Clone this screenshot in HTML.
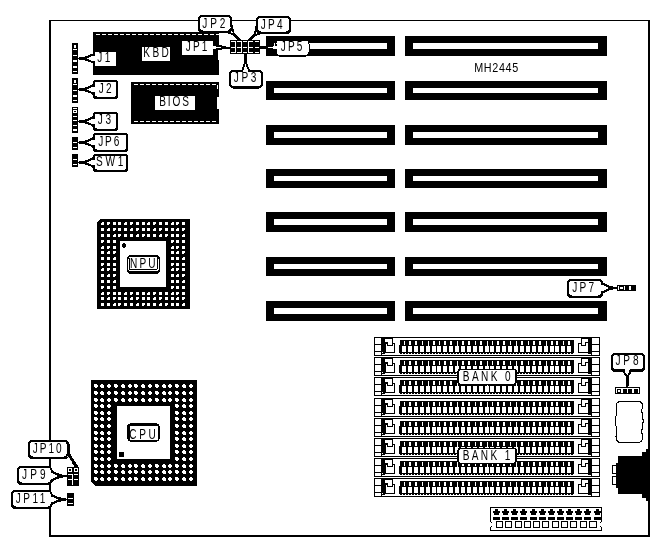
<!DOCTYPE html>
<html><head><meta charset="utf-8"><title>MH2445</title>
<style>
html,body{margin:0;padding:0;background:#fff;}
body{width:655px;height:541px;overflow:hidden;}
svg{display:block;will-change:transform;}
svg *{shape-rendering:crispEdges;}
svg .aa{shape-rendering:crispEdges;}
text{font-family:"Liberation Sans",sans-serif;fill:#000;}
</style></head><body>
<svg width="655" height="541" viewBox="0 0 655 541">
<rect x="0" y="0" width="655" height="541" fill="#fff"/>
<rect x="49" y="20" width="601" height="517" fill="#000" />
<rect x="51" y="21" width="597" height="514" fill="#fff" />
<rect x="266" y="36" width="129" height="20" fill="#000" />
<rect x="274" y="43" width="113" height="6" fill="#fff" />
<rect x="405" y="36" width="202" height="20" fill="#000" />
<rect x="413" y="43" width="185" height="6" fill="#fff" />
<rect x="266" y="81" width="129" height="19" fill="#000" />
<rect x="274" y="88" width="113" height="5" fill="#fff" />
<rect x="405" y="81" width="202" height="19" fill="#000" />
<rect x="413" y="88" width="185" height="5" fill="#fff" />
<rect x="266" y="125" width="129" height="20" fill="#000" />
<rect x="274" y="132" width="113" height="6" fill="#fff" />
<rect x="405" y="125" width="202" height="20" fill="#000" />
<rect x="413" y="132" width="185" height="6" fill="#fff" />
<rect x="266" y="169" width="129" height="19" fill="#000" />
<rect x="274" y="176" width="113" height="5" fill="#fff" />
<rect x="405" y="169" width="202" height="19" fill="#000" />
<rect x="413" y="176" width="185" height="5" fill="#fff" />
<rect x="266" y="212" width="129" height="20" fill="#000" />
<rect x="274" y="219" width="113" height="6" fill="#fff" />
<rect x="405" y="212" width="202" height="20" fill="#000" />
<rect x="413" y="219" width="185" height="6" fill="#fff" />
<rect x="266" y="257" width="129" height="19" fill="#000" />
<rect x="274" y="264" width="113" height="5" fill="#fff" />
<rect x="405" y="257" width="202" height="19" fill="#000" />
<rect x="413" y="264" width="185" height="5" fill="#fff" />
<rect x="266" y="301" width="129" height="20" fill="#000" />
<rect x="274" y="308" width="113" height="6" fill="#fff" />
<rect x="405" y="301" width="202" height="20" fill="#000" />
<rect x="413" y="308" width="185" height="6" fill="#fff" />
<text transform="translate(474.22,72.00) scale(0.9,1)" font-size="12" textLength="48.89" lengthAdjust="spacing">MH2445</text>
<rect x="93" y="32" width="126" height="43" fill="#000" />
<line x1="96" y1="34.5" x2="219" y2="34.5" stroke="#fff" stroke-width="1" stroke-dasharray="4 2"/>
<rect x="218" y="50" width="1" height="10" fill="#fff" />
<rect x="131" y="82" width="88" height="42" fill="#000" />
<line x1="134" y1="84.5" x2="217" y2="84.5" stroke="#fff" stroke-width="1" stroke-dasharray="4 2"/>
<line x1="134" y1="121.5" x2="217" y2="121.5" stroke="#fff" stroke-width="1" stroke-dasharray="4 2"/>
<rect x="217" y="97" width="2" height="12" fill="#fff" />
<rect x="217" y="85" width="1" height="4" fill="#fff" />
<rect x="72" y="43" width="6" height="31" fill="#000" />
<rect x="74" y="45" width="2" height="3" fill="#fff" />
<rect x="73" y="49" width="4" height="1" fill="#fff" />
<rect x="73" y="55" width="4" height="1" fill="#fff" />
<rect x="73" y="60" width="4" height="2" fill="#fff" />
<rect x="73" y="66" width="4" height="2" fill="#fff" />
<rect x="73" y="71" width="4" height="1" fill="#fff" />
<rect x="72" y="78" width="6" height="25" fill="#000" />
<rect x="74" y="80" width="2" height="3" fill="#fff" />
<rect x="73" y="84" width="4" height="1" fill="#fff" />
<rect x="73" y="90" width="4" height="1" fill="#fff" />
<rect x="73" y="95" width="4" height="2" fill="#fff" />
<rect x="73" y="100" width="4" height="1" fill="#fff" />
<rect x="72" y="107" width="6" height="26" fill="#000" />
<rect x="73" y="108" width="4" height="1" fill="#fff" />
<rect x="73" y="110" width="4" height="3" fill="#fff" />
<rect x="73" y="116" width="4" height="1" fill="#fff" />
<rect x="73" y="120" width="4" height="1" fill="#fff" />
<rect x="73" y="125" width="4" height="1" fill="#fff" />
<rect x="73" y="129" width="4" height="2" fill="#fff" />
<rect x="74" y="111" width="2" height="1" fill="#000" />
<rect x="72" y="137" width="6" height="13" fill="#000" />
<rect x="73" y="142" width="4" height="1" fill="#fff" />
<rect x="73" y="147" width="4" height="1" fill="#fff" />
<rect x="72" y="154" width="6" height="13" fill="#000" />
<rect x="73" y="159" width="4" height="1" fill="#fff" />
<rect x="73" y="164" width="4" height="1" fill="#fff" />
<polygon points="96.00,52.50 93.50,54.50 91.00,54.30 86.99,55.90 82.65,57.00 78.00,57.60 78.00,59.40 82.65,60.00 86.99,61.10 91.00,62.70 93.50,62.50 96.00,65.50" fill="#000" class="aa"/>
<rect x="93" y="52" width="3" height="14" fill="#000" />
<rect x="95" y="52" width="21" height="14" fill="#fff" />
<polygon points="96.50,55.30 93.00,55.70 91.00,56.50 87.92,58.00 86.99,58.50 87.92,59.00 91.00,60.50 93.00,61.30 96.50,61.70" fill="#fff" class="aa"/>
<text transform="translate(97.22,62.00) scale(0.72,1)" font-size="14" textLength="18.36" lengthAdjust="spacing">J1</text>
<rect x="142" y="47" width="28" height="14" fill="#fff" />
<text transform="translate(143.22,57.00) scale(0.72,1)" font-size="14" textLength="35.62" lengthAdjust="spacing">KBD</text>
<rect x="182" y="41" width="31" height="14" fill="#fff" />
<text transform="translate(185.84,51.00) scale(0.72,1)" font-size="14" textLength="29.92" lengthAdjust="spacing">JP1</text>
<rect x="155" y="96" width="40" height="14" fill="#fff" />
<text transform="translate(159.22,106.00) scale(0.72,1)" font-size="14" textLength="41.28" lengthAdjust="spacing">BIOS</text>
<polygon points="96.00,80.50 93.50,83.50 91.00,85.30 86.99,86.90 82.65,88.00 78.00,88.60 78.00,90.40 82.65,91.00 86.99,92.10 91.00,93.70 93.50,95.50 96.00,98.50" fill="#000" class="aa"/>
<rect x="93" y="80" width="25" height="19" rx="3.0" ry="3.0" fill="#000" class="aa"/>
<rect x="95" y="81.5" width="21" height="15.0" rx="1.5" ry="1.5" fill="#fff" class="aa"/>
<polygon points="96.50,86.30 93.00,86.70 91.00,87.50 87.92,89.00 86.99,89.50 87.92,90.00 91.00,91.50 93.00,92.30 96.50,92.70" fill="#fff" class="aa"/>
<text transform="translate(98.84,93.00) scale(0.72,1)" font-size="14" textLength="17.72" lengthAdjust="spacing">J2</text>
<polygon points="96.00,112.50 93.50,115.50 91.00,117.30 86.99,118.90 82.65,120.00 78.00,120.60 78.00,122.40 82.65,123.00 86.99,124.10 91.00,125.70 93.50,127.50 96.00,130.50" fill="#000" class="aa"/>
<rect x="93" y="112" width="25" height="19" rx="3.0" ry="3.0" fill="#000" class="aa"/>
<rect x="95" y="113.5" width="21" height="15.0" rx="1.5" ry="1.5" fill="#fff" class="aa"/>
<polygon points="96.50,118.30 93.00,118.70 91.00,119.50 87.92,121.00 86.99,121.50 87.92,122.00 91.00,123.50 93.00,124.30 96.50,124.70" fill="#fff" class="aa"/>
<text transform="translate(97.84,124.00) scale(0.72,1)" font-size="14" textLength="18.50" lengthAdjust="spacing">J3</text>
<polygon points="96.00,133.50 93.50,136.50 91.00,138.30 86.99,139.90 82.65,141.00 78.00,141.60 78.00,143.40 82.65,144.00 86.99,145.10 91.00,146.70 93.50,148.50 96.00,151.50" fill="#000" class="aa"/>
<rect x="93" y="133" width="35" height="19" rx="3.0" ry="3.0" fill="#000" class="aa"/>
<rect x="95" y="134.5" width="31" height="15.0" rx="1.5" ry="1.5" fill="#fff" class="aa"/>
<polygon points="96.50,139.30 93.00,139.70 91.00,140.50 87.92,142.00 86.99,142.50 87.92,143.00 91.00,144.50 93.00,145.30 96.50,145.70" fill="#fff" class="aa"/>
<text transform="translate(98.22,146.00) scale(0.72,1)" font-size="14" textLength="29.31" lengthAdjust="spacing">JP6</text>
<polygon points="96.00,154.50 93.50,156.50 91.00,158.30 86.99,159.90 82.65,161.00 78.00,161.60 78.00,163.40 82.65,164.00 86.99,165.10 91.00,166.70 93.50,168.50 96.00,171.50" fill="#000" class="aa"/>
<rect x="93" y="154" width="35" height="18" rx="3.0" ry="3.0" fill="#000" class="aa"/>
<rect x="95" y="155.5" width="31" height="14.0" rx="1.5" ry="1.5" fill="#fff" class="aa"/>
<polygon points="96.50,159.30 93.00,159.70 91.00,160.50 87.92,162.00 86.99,162.50 87.92,163.00 91.00,164.50 93.00,165.30 96.50,165.70" fill="#fff" class="aa"/>
<text transform="translate(95.94,166.00) scale(0.72,1)" font-size="14" textLength="38.11" lengthAdjust="spacing">SW1</text>
<line x1="240" y1="41" x2="234.12" y2="34.62" stroke="#000" stroke-width="3" class="aa"/>
<polygon points="225,31.5 234.12,34.62 231.5,25" fill="#fff" stroke="#000" stroke-width="1.8" stroke-linejoin="miter" class="aa"/>
<rect x="198" y="15" width="34" height="18" rx="4.3" ry="4.3" fill="#000" class="aa"/>
<rect x="200" y="16.5" width="30" height="14.0" rx="2.8" ry="2.8" fill="#fff" class="aa"/>
<polygon points="227.11,31.08 231.01,27.18 228.57,24.54 224.67,28.44" fill="#fff" class="aa"/>
<text transform="translate(202.28,28.00) scale(0.72,1)" font-size="14" textLength="32.17" lengthAdjust="spacing">JP2</text>
<line x1="249" y1="41" x2="254.62" y2="35.12" stroke="#000" stroke-width="3" class="aa"/>
<polygon points="256.5,26 254.62,35.12 264,32.5" fill="#fff" stroke="#000" stroke-width="1.8" stroke-linejoin="miter" class="aa"/>
<rect x="256" y="16" width="35" height="18" rx="4.3" ry="4.3" fill="#000" class="aa"/>
<rect x="258" y="17.5" width="31" height="14.0" rx="2.8" ry="2.8" fill="#fff" class="aa"/>
<polygon points="257.17,28.17 261.67,32.07 264.16,29.47 259.66,25.57" fill="#fff" class="aa"/>
<text transform="translate(260.72,29.00) scale(0.72,1)" font-size="14" textLength="30.28" lengthAdjust="spacing">JP4</text>
<line x1="245" y1="53" x2="245.38" y2="62.00" stroke="#000" stroke-width="3" class="aa"/>
<polygon points="242,71 245.38,62.00 249.5,71" fill="#fff" stroke="#000" stroke-width="1.8" stroke-linejoin="miter" class="aa"/>
<rect x="229" y="70" width="34" height="18.5" rx="4.3" ry="4.3" fill="#000" class="aa"/>
<rect x="231" y="71.5" width="30" height="14.5" rx="2.8" ry="2.8" fill="#fff" class="aa"/>
<polygon points="243.45,69.80 247.95,69.80 248.10,73.40 243.60,73.40" fill="#fff" class="aa"/>
<text transform="translate(233.74,82.00) scale(0.72,1)" font-size="14" textLength="31.39" lengthAdjust="spacing">JP3</text>
<polygon points="213,45.5 218,47.5 213,49.5" fill="#fff" class="aa"/>
<polygon points="219,45 222,45.5 226,46.5 230,46.5 230,48.5 226,49 222,49.5 219,50" fill="#000" class="aa"/>
<rect x="218" y="47" width="3" height="1" fill="#fff" />
<polygon points="260,46.5 266,46 266,49 260,48.5" fill="#000" class="aa"/>
<rect x="275" y="39.5" width="34.5" height="17" rx="4" ry="4" fill="#000" class="aa"/>
<rect x="276.5" y="40.5" width="32" height="14.5" rx="3" ry="3" fill="#fff" class="aa"/>
<polygon points="277,45.5 268,47.5 277,49.5" fill="#fff" class="aa"/>
<text transform="translate(280.84,51.00) scale(0.72,1)" font-size="14" textLength="29.83" lengthAdjust="spacing">JP5</text>
<rect x="230" y="40" width="30" height="14" fill="#000" />
<rect x="231" y="41" width="4" height="1" fill="#fff" />
<rect x="237" y="41" width="4" height="1" fill="#fff" />
<rect x="243" y="41" width="4" height="1" fill="#fff" />
<rect x="249" y="41" width="4" height="1" fill="#fff" />
<rect x="255" y="41" width="4" height="1" fill="#fff" />
<rect x="231" y="47" width="4" height="1" fill="#fff" />
<rect x="237" y="47" width="4" height="1" fill="#fff" />
<rect x="243" y="47" width="4" height="1" fill="#fff" />
<rect x="249" y="47" width="4" height="1" fill="#fff" />
<rect x="255" y="47" width="4" height="1" fill="#fff" />
<rect x="231" y="52" width="4" height="1" fill="#fff" />
<rect x="237" y="52" width="4" height="1" fill="#fff" />
<rect x="243" y="52" width="4" height="1" fill="#fff" />
<rect x="249" y="52" width="4" height="1" fill="#fff" />
<rect x="255" y="52" width="4" height="1" fill="#fff" />
<rect x="235" y="41" width="1" height="12" fill="#fff" />
<rect x="241" y="41" width="1" height="12" fill="#fff" />
<rect x="248" y="41" width="1" height="12" fill="#fff" />
<rect x="97" y="219" width="93" height="90" fill="#000" />
<polygon points="97,219 100,219 97,222" fill="#fff"/>
<rect x="101" y="222" width="3" height="3" fill="#fff" />
<rect x="101" y="222" width="1" height="1" fill="#000" />
<rect x="101" y="228" width="3" height="3" fill="#fff" />
<rect x="101" y="234" width="3" height="3" fill="#fff" />
<rect x="101" y="240" width="3" height="3" fill="#fff" />
<rect x="103" y="242" width="1" height="1" fill="#000" />
<rect x="101" y="246" width="3" height="3" fill="#fff" />
<rect x="101" y="246" width="1" height="1" fill="#000" />
<rect x="101" y="251" width="3" height="3" fill="#fff" />
<rect x="101" y="257" width="3" height="3" fill="#fff" />
<rect x="101" y="263" width="3" height="3" fill="#fff" />
<rect x="103" y="265" width="1" height="1" fill="#000" />
<rect x="101" y="268" width="3" height="3" fill="#fff" />
<rect x="101" y="268" width="1" height="1" fill="#000" />
<rect x="101" y="274" width="3" height="3" fill="#fff" />
<rect x="101" y="280" width="3" height="3" fill="#fff" />
<rect x="101" y="286" width="3" height="3" fill="#fff" />
<rect x="103" y="288" width="1" height="1" fill="#000" />
<rect x="101" y="292" width="3" height="3" fill="#fff" />
<rect x="101" y="292" width="1" height="1" fill="#000" />
<rect x="101" y="297" width="3" height="3" fill="#fff" />
<rect x="101" y="303" width="3" height="3" fill="#fff" />
<rect x="107" y="222" width="3" height="3" fill="#fff" />
<rect x="109" y="224" width="1" height="1" fill="#000" />
<rect x="107" y="228" width="3" height="3" fill="#fff" />
<rect x="107" y="228" width="1" height="1" fill="#000" />
<rect x="107" y="234" width="3" height="3" fill="#fff" />
<rect x="107" y="240" width="3" height="3" fill="#fff" />
<rect x="107" y="246" width="3" height="3" fill="#fff" />
<rect x="109" y="248" width="1" height="1" fill="#000" />
<rect x="107" y="251" width="3" height="3" fill="#fff" />
<rect x="107" y="251" width="1" height="1" fill="#000" />
<rect x="107" y="257" width="3" height="3" fill="#fff" />
<rect x="107" y="263" width="3" height="3" fill="#fff" />
<rect x="107" y="268" width="3" height="3" fill="#fff" />
<rect x="109" y="270" width="1" height="1" fill="#000" />
<rect x="107" y="274" width="3" height="3" fill="#fff" />
<rect x="107" y="274" width="1" height="1" fill="#000" />
<rect x="107" y="280" width="3" height="3" fill="#fff" />
<rect x="107" y="286" width="3" height="3" fill="#fff" />
<rect x="107" y="292" width="3" height="3" fill="#fff" />
<rect x="109" y="294" width="1" height="1" fill="#000" />
<rect x="107" y="297" width="3" height="3" fill="#fff" />
<rect x="107" y="297" width="1" height="1" fill="#000" />
<rect x="107" y="303" width="3" height="3" fill="#fff" />
<rect x="113" y="222" width="3" height="3" fill="#fff" />
<rect x="113" y="228" width="3" height="3" fill="#fff" />
<rect x="115" y="230" width="1" height="1" fill="#000" />
<rect x="113" y="234" width="3" height="3" fill="#fff" />
<rect x="113" y="234" width="1" height="1" fill="#000" />
<rect x="113" y="240" width="3" height="3" fill="#fff" />
<rect x="113" y="246" width="3" height="3" fill="#fff" />
<rect x="113" y="251" width="3" height="3" fill="#fff" />
<rect x="115" y="253" width="1" height="1" fill="#000" />
<rect x="113" y="257" width="3" height="3" fill="#fff" />
<rect x="113" y="257" width="1" height="1" fill="#000" />
<rect x="113" y="263" width="3" height="3" fill="#fff" />
<rect x="113" y="268" width="3" height="3" fill="#fff" />
<rect x="113" y="274" width="3" height="3" fill="#fff" />
<rect x="115" y="276" width="1" height="1" fill="#000" />
<rect x="113" y="280" width="3" height="3" fill="#fff" />
<rect x="113" y="280" width="1" height="1" fill="#000" />
<rect x="113" y="286" width="3" height="3" fill="#fff" />
<rect x="113" y="292" width="3" height="3" fill="#fff" />
<rect x="113" y="297" width="3" height="3" fill="#fff" />
<rect x="115" y="299" width="1" height="1" fill="#000" />
<rect x="113" y="303" width="3" height="3" fill="#fff" />
<rect x="113" y="303" width="1" height="1" fill="#000" />
<rect x="118" y="222" width="3" height="3" fill="#fff" />
<rect x="118" y="228" width="3" height="3" fill="#fff" />
<rect x="118" y="234" width="3" height="3" fill="#fff" />
<rect x="120" y="236" width="1" height="1" fill="#000" />
<rect x="118" y="292" width="3" height="3" fill="#fff" />
<rect x="118" y="297" width="3" height="3" fill="#fff" />
<rect x="118" y="303" width="3" height="3" fill="#fff" />
<rect x="120" y="305" width="1" height="1" fill="#000" />
<rect x="124" y="222" width="3" height="3" fill="#fff" />
<rect x="124" y="222" width="1" height="1" fill="#000" />
<rect x="124" y="228" width="3" height="3" fill="#fff" />
<rect x="124" y="234" width="3" height="3" fill="#fff" />
<rect x="124" y="292" width="3" height="3" fill="#fff" />
<rect x="124" y="292" width="1" height="1" fill="#000" />
<rect x="124" y="297" width="3" height="3" fill="#fff" />
<rect x="124" y="303" width="3" height="3" fill="#fff" />
<rect x="130" y="222" width="3" height="3" fill="#fff" />
<rect x="132" y="224" width="1" height="1" fill="#000" />
<rect x="130" y="228" width="3" height="3" fill="#fff" />
<rect x="130" y="228" width="1" height="1" fill="#000" />
<rect x="130" y="234" width="3" height="3" fill="#fff" />
<rect x="130" y="292" width="3" height="3" fill="#fff" />
<rect x="132" y="294" width="1" height="1" fill="#000" />
<rect x="130" y="297" width="3" height="3" fill="#fff" />
<rect x="130" y="297" width="1" height="1" fill="#000" />
<rect x="130" y="303" width="3" height="3" fill="#fff" />
<rect x="136" y="222" width="3" height="3" fill="#fff" />
<rect x="136" y="228" width="3" height="3" fill="#fff" />
<rect x="138" y="230" width="1" height="1" fill="#000" />
<rect x="136" y="234" width="3" height="3" fill="#fff" />
<rect x="136" y="234" width="1" height="1" fill="#000" />
<rect x="136" y="292" width="3" height="3" fill="#fff" />
<rect x="136" y="297" width="3" height="3" fill="#fff" />
<rect x="138" y="299" width="1" height="1" fill="#000" />
<rect x="136" y="303" width="3" height="3" fill="#fff" />
<rect x="136" y="303" width="1" height="1" fill="#000" />
<rect x="142" y="222" width="3" height="3" fill="#fff" />
<rect x="142" y="228" width="3" height="3" fill="#fff" />
<rect x="142" y="234" width="3" height="3" fill="#fff" />
<rect x="144" y="236" width="1" height="1" fill="#000" />
<rect x="142" y="292" width="3" height="3" fill="#fff" />
<rect x="142" y="297" width="3" height="3" fill="#fff" />
<rect x="142" y="303" width="3" height="3" fill="#fff" />
<rect x="144" y="305" width="1" height="1" fill="#000" />
<rect x="147" y="222" width="3" height="3" fill="#fff" />
<rect x="147" y="222" width="1" height="1" fill="#000" />
<rect x="147" y="228" width="3" height="3" fill="#fff" />
<rect x="147" y="234" width="3" height="3" fill="#fff" />
<rect x="147" y="292" width="3" height="3" fill="#fff" />
<rect x="147" y="292" width="1" height="1" fill="#000" />
<rect x="147" y="297" width="3" height="3" fill="#fff" />
<rect x="147" y="303" width="3" height="3" fill="#fff" />
<rect x="153" y="222" width="3" height="3" fill="#fff" />
<rect x="155" y="224" width="1" height="1" fill="#000" />
<rect x="153" y="228" width="3" height="3" fill="#fff" />
<rect x="153" y="228" width="1" height="1" fill="#000" />
<rect x="153" y="234" width="3" height="3" fill="#fff" />
<rect x="153" y="292" width="3" height="3" fill="#fff" />
<rect x="155" y="294" width="1" height="1" fill="#000" />
<rect x="153" y="297" width="3" height="3" fill="#fff" />
<rect x="153" y="297" width="1" height="1" fill="#000" />
<rect x="153" y="303" width="3" height="3" fill="#fff" />
<rect x="159" y="222" width="3" height="3" fill="#fff" />
<rect x="159" y="228" width="3" height="3" fill="#fff" />
<rect x="161" y="230" width="1" height="1" fill="#000" />
<rect x="159" y="234" width="3" height="3" fill="#fff" />
<rect x="159" y="234" width="1" height="1" fill="#000" />
<rect x="159" y="292" width="3" height="3" fill="#fff" />
<rect x="159" y="297" width="3" height="3" fill="#fff" />
<rect x="161" y="299" width="1" height="1" fill="#000" />
<rect x="159" y="303" width="3" height="3" fill="#fff" />
<rect x="159" y="303" width="1" height="1" fill="#000" />
<rect x="165" y="222" width="3" height="3" fill="#fff" />
<rect x="165" y="228" width="3" height="3" fill="#fff" />
<rect x="165" y="234" width="3" height="3" fill="#fff" />
<rect x="167" y="236" width="1" height="1" fill="#000" />
<rect x="165" y="292" width="3" height="3" fill="#fff" />
<rect x="165" y="297" width="3" height="3" fill="#fff" />
<rect x="165" y="303" width="3" height="3" fill="#fff" />
<rect x="167" y="305" width="1" height="1" fill="#000" />
<rect x="171" y="222" width="3" height="3" fill="#fff" />
<rect x="171" y="222" width="1" height="1" fill="#000" />
<rect x="171" y="228" width="3" height="3" fill="#fff" />
<rect x="171" y="234" width="3" height="3" fill="#fff" />
<rect x="171" y="240" width="3" height="3" fill="#fff" />
<rect x="173" y="242" width="1" height="1" fill="#000" />
<rect x="171" y="246" width="3" height="3" fill="#fff" />
<rect x="171" y="246" width="1" height="1" fill="#000" />
<rect x="171" y="251" width="3" height="3" fill="#fff" />
<rect x="171" y="257" width="3" height="3" fill="#fff" />
<rect x="171" y="263" width="3" height="3" fill="#fff" />
<rect x="173" y="265" width="1" height="1" fill="#000" />
<rect x="171" y="268" width="3" height="3" fill="#fff" />
<rect x="171" y="268" width="1" height="1" fill="#000" />
<rect x="171" y="274" width="3" height="3" fill="#fff" />
<rect x="171" y="280" width="3" height="3" fill="#fff" />
<rect x="171" y="286" width="3" height="3" fill="#fff" />
<rect x="173" y="288" width="1" height="1" fill="#000" />
<rect x="171" y="292" width="3" height="3" fill="#fff" />
<rect x="171" y="292" width="1" height="1" fill="#000" />
<rect x="171" y="297" width="3" height="3" fill="#fff" />
<rect x="171" y="303" width="3" height="3" fill="#fff" />
<rect x="176" y="222" width="3" height="3" fill="#fff" />
<rect x="178" y="224" width="1" height="1" fill="#000" />
<rect x="176" y="228" width="3" height="3" fill="#fff" />
<rect x="176" y="228" width="1" height="1" fill="#000" />
<rect x="176" y="234" width="3" height="3" fill="#fff" />
<rect x="176" y="240" width="3" height="3" fill="#fff" />
<rect x="176" y="246" width="3" height="3" fill="#fff" />
<rect x="178" y="248" width="1" height="1" fill="#000" />
<rect x="176" y="251" width="3" height="3" fill="#fff" />
<rect x="176" y="251" width="1" height="1" fill="#000" />
<rect x="176" y="257" width="3" height="3" fill="#fff" />
<rect x="176" y="263" width="3" height="3" fill="#fff" />
<rect x="176" y="268" width="3" height="3" fill="#fff" />
<rect x="178" y="270" width="1" height="1" fill="#000" />
<rect x="176" y="274" width="3" height="3" fill="#fff" />
<rect x="176" y="274" width="1" height="1" fill="#000" />
<rect x="176" y="280" width="3" height="3" fill="#fff" />
<rect x="176" y="286" width="3" height="3" fill="#fff" />
<rect x="176" y="292" width="3" height="3" fill="#fff" />
<rect x="178" y="294" width="1" height="1" fill="#000" />
<rect x="176" y="297" width="3" height="3" fill="#fff" />
<rect x="176" y="297" width="1" height="1" fill="#000" />
<rect x="176" y="303" width="3" height="3" fill="#fff" />
<rect x="182" y="222" width="3" height="3" fill="#fff" />
<rect x="182" y="228" width="3" height="3" fill="#fff" />
<rect x="184" y="230" width="1" height="1" fill="#000" />
<rect x="182" y="234" width="3" height="3" fill="#fff" />
<rect x="182" y="234" width="1" height="1" fill="#000" />
<rect x="182" y="240" width="3" height="3" fill="#fff" />
<rect x="182" y="246" width="3" height="3" fill="#fff" />
<rect x="182" y="251" width="3" height="3" fill="#fff" />
<rect x="184" y="253" width="1" height="1" fill="#000" />
<rect x="182" y="257" width="3" height="3" fill="#fff" />
<rect x="182" y="257" width="1" height="1" fill="#000" />
<rect x="182" y="263" width="3" height="3" fill="#fff" />
<rect x="182" y="268" width="3" height="3" fill="#fff" />
<rect x="182" y="274" width="3" height="3" fill="#fff" />
<rect x="184" y="276" width="1" height="1" fill="#000" />
<rect x="182" y="280" width="3" height="3" fill="#fff" />
<rect x="182" y="280" width="1" height="1" fill="#000" />
<rect x="182" y="286" width="3" height="3" fill="#fff" />
<rect x="182" y="292" width="3" height="3" fill="#fff" />
<rect x="182" y="297" width="3" height="3" fill="#fff" />
<rect x="184" y="299" width="1" height="1" fill="#000" />
<rect x="182" y="303" width="3" height="3" fill="#fff" />
<rect x="182" y="303" width="1" height="1" fill="#000" />
<rect x="120" y="241" width="46" height="46" fill="#fff" />
<rect x="123" y="243" width="2" height="5" fill="#000" />
<rect x="122" y="244" width="4" height="3" fill="#000" />
<rect x="127" y="255" width="33" height="19" rx="4" ry="4" fill="#000" class="aa"/>
<rect x="128" y="257" width="31" height="14" rx="3" ry="3" fill="#fff" class="aa"/>
<rect x="129" y="257" width="29" height="13" rx="2" ry="2" fill="#000" class="aa"/>
<rect x="130" y="257" width="27" height="12" rx="1" ry="1" fill="#fff" class="aa"/>
<rect x="128" y="257" width="1" height="2" fill="#000" />
<rect x="158" y="257" width="1" height="2" fill="#000" />
<text transform="translate(130.02,268.00) scale(0.72,1)" font-size="14" textLength="35.50" lengthAdjust="spacing">NPU</text>
<rect x="91" y="380" width="106" height="106" fill="#000" />
<polygon points="91,486 95,486 91,482" fill="#fff"/>
<rect x="94" y="385" width="4" height="2" fill="#fff" />
<rect x="95" y="384" width="2" height="4" fill="#fff" />
<rect x="94" y="384" width="2" height="2" fill="#fff" />
<rect x="94" y="392" width="4" height="2" fill="#fff" />
<rect x="95" y="391" width="2" height="4" fill="#fff" />
<rect x="94" y="391" width="2" height="2" fill="#fff" />
<rect x="94" y="399" width="4" height="2" fill="#fff" />
<rect x="95" y="398" width="2" height="4" fill="#fff" />
<rect x="94" y="398" width="2" height="2" fill="#fff" />
<rect x="94" y="405" width="4" height="2" fill="#fff" />
<rect x="95" y="404" width="2" height="4" fill="#fff" />
<rect x="94" y="404" width="2" height="2" fill="#fff" />
<rect x="94" y="412" width="4" height="2" fill="#fff" />
<rect x="95" y="411" width="2" height="4" fill="#fff" />
<rect x="94" y="411" width="2" height="2" fill="#fff" />
<rect x="94" y="418" width="4" height="2" fill="#fff" />
<rect x="95" y="417" width="2" height="4" fill="#fff" />
<rect x="94" y="417" width="2" height="2" fill="#fff" />
<rect x="94" y="425" width="4" height="2" fill="#fff" />
<rect x="95" y="424" width="2" height="4" fill="#fff" />
<rect x="94" y="424" width="2" height="2" fill="#fff" />
<rect x="94" y="432" width="4" height="2" fill="#fff" />
<rect x="95" y="431" width="2" height="4" fill="#fff" />
<rect x="94" y="431" width="2" height="2" fill="#fff" />
<rect x="94" y="438" width="4" height="2" fill="#fff" />
<rect x="95" y="437" width="2" height="4" fill="#fff" />
<rect x="94" y="437" width="2" height="2" fill="#fff" />
<rect x="94" y="445" width="4" height="2" fill="#fff" />
<rect x="95" y="444" width="2" height="4" fill="#fff" />
<rect x="94" y="444" width="2" height="2" fill="#fff" />
<rect x="94" y="451" width="4" height="2" fill="#fff" />
<rect x="95" y="450" width="2" height="4" fill="#fff" />
<rect x="94" y="450" width="2" height="2" fill="#fff" />
<rect x="94" y="458" width="4" height="2" fill="#fff" />
<rect x="95" y="457" width="2" height="4" fill="#fff" />
<rect x="94" y="457" width="2" height="2" fill="#fff" />
<rect x="94" y="465" width="4" height="2" fill="#fff" />
<rect x="95" y="464" width="2" height="4" fill="#fff" />
<rect x="94" y="464" width="2" height="2" fill="#fff" />
<rect x="94" y="471" width="4" height="2" fill="#fff" />
<rect x="95" y="470" width="2" height="4" fill="#fff" />
<rect x="94" y="470" width="2" height="2" fill="#fff" />
<rect x="94" y="478" width="4" height="2" fill="#fff" />
<rect x="95" y="477" width="2" height="4" fill="#fff" />
<rect x="94" y="477" width="2" height="2" fill="#fff" />
<rect x="100" y="385" width="4" height="2" fill="#fff" />
<rect x="101" y="384" width="2" height="4" fill="#fff" />
<rect x="102" y="386" width="2" height="2" fill="#fff" />
<rect x="100" y="392" width="4" height="2" fill="#fff" />
<rect x="101" y="391" width="2" height="4" fill="#fff" />
<rect x="102" y="393" width="2" height="2" fill="#fff" />
<rect x="100" y="399" width="4" height="2" fill="#fff" />
<rect x="101" y="398" width="2" height="4" fill="#fff" />
<rect x="102" y="400" width="2" height="2" fill="#fff" />
<rect x="100" y="405" width="4" height="2" fill="#fff" />
<rect x="101" y="404" width="2" height="4" fill="#fff" />
<rect x="102" y="406" width="2" height="2" fill="#fff" />
<rect x="100" y="412" width="4" height="2" fill="#fff" />
<rect x="101" y="411" width="2" height="4" fill="#fff" />
<rect x="102" y="413" width="2" height="2" fill="#fff" />
<rect x="100" y="418" width="4" height="2" fill="#fff" />
<rect x="101" y="417" width="2" height="4" fill="#fff" />
<rect x="102" y="419" width="2" height="2" fill="#fff" />
<rect x="100" y="425" width="4" height="2" fill="#fff" />
<rect x="101" y="424" width="2" height="4" fill="#fff" />
<rect x="102" y="426" width="2" height="2" fill="#fff" />
<rect x="100" y="432" width="4" height="2" fill="#fff" />
<rect x="101" y="431" width="2" height="4" fill="#fff" />
<rect x="102" y="433" width="2" height="2" fill="#fff" />
<rect x="100" y="438" width="4" height="2" fill="#fff" />
<rect x="101" y="437" width="2" height="4" fill="#fff" />
<rect x="102" y="439" width="2" height="2" fill="#fff" />
<rect x="100" y="445" width="4" height="2" fill="#fff" />
<rect x="101" y="444" width="2" height="4" fill="#fff" />
<rect x="102" y="446" width="2" height="2" fill="#fff" />
<rect x="100" y="451" width="4" height="2" fill="#fff" />
<rect x="101" y="450" width="2" height="4" fill="#fff" />
<rect x="102" y="452" width="2" height="2" fill="#fff" />
<rect x="100" y="458" width="4" height="2" fill="#fff" />
<rect x="101" y="457" width="2" height="4" fill="#fff" />
<rect x="102" y="459" width="2" height="2" fill="#fff" />
<rect x="100" y="465" width="4" height="2" fill="#fff" />
<rect x="101" y="464" width="2" height="4" fill="#fff" />
<rect x="102" y="466" width="2" height="2" fill="#fff" />
<rect x="100" y="471" width="4" height="2" fill="#fff" />
<rect x="101" y="470" width="2" height="4" fill="#fff" />
<rect x="102" y="472" width="2" height="2" fill="#fff" />
<rect x="100" y="478" width="4" height="2" fill="#fff" />
<rect x="101" y="477" width="2" height="4" fill="#fff" />
<rect x="102" y="479" width="2" height="2" fill="#fff" />
<rect x="107" y="385" width="4" height="2" fill="#fff" />
<rect x="108" y="384" width="2" height="4" fill="#fff" />
<rect x="107" y="392" width="4" height="2" fill="#fff" />
<rect x="108" y="391" width="2" height="4" fill="#fff" />
<rect x="107" y="399" width="4" height="2" fill="#fff" />
<rect x="108" y="398" width="2" height="4" fill="#fff" />
<rect x="107" y="405" width="4" height="2" fill="#fff" />
<rect x="108" y="404" width="2" height="4" fill="#fff" />
<rect x="107" y="412" width="4" height="2" fill="#fff" />
<rect x="108" y="411" width="2" height="4" fill="#fff" />
<rect x="107" y="418" width="4" height="2" fill="#fff" />
<rect x="108" y="417" width="2" height="4" fill="#fff" />
<rect x="107" y="425" width="4" height="2" fill="#fff" />
<rect x="108" y="424" width="2" height="4" fill="#fff" />
<rect x="107" y="432" width="4" height="2" fill="#fff" />
<rect x="108" y="431" width="2" height="4" fill="#fff" />
<rect x="107" y="438" width="4" height="2" fill="#fff" />
<rect x="108" y="437" width="2" height="4" fill="#fff" />
<rect x="107" y="445" width="4" height="2" fill="#fff" />
<rect x="108" y="444" width="2" height="4" fill="#fff" />
<rect x="107" y="451" width="4" height="2" fill="#fff" />
<rect x="108" y="450" width="2" height="4" fill="#fff" />
<rect x="107" y="458" width="4" height="2" fill="#fff" />
<rect x="108" y="457" width="2" height="4" fill="#fff" />
<rect x="107" y="465" width="4" height="2" fill="#fff" />
<rect x="108" y="464" width="2" height="4" fill="#fff" />
<rect x="107" y="471" width="4" height="2" fill="#fff" />
<rect x="108" y="470" width="2" height="4" fill="#fff" />
<rect x="107" y="478" width="4" height="2" fill="#fff" />
<rect x="108" y="477" width="2" height="4" fill="#fff" />
<rect x="114" y="385" width="4" height="2" fill="#fff" />
<rect x="115" y="384" width="2" height="4" fill="#fff" />
<rect x="114" y="384" width="2" height="2" fill="#fff" />
<rect x="114" y="392" width="4" height="2" fill="#fff" />
<rect x="115" y="391" width="2" height="4" fill="#fff" />
<rect x="114" y="391" width="2" height="2" fill="#fff" />
<rect x="114" y="399" width="4" height="2" fill="#fff" />
<rect x="115" y="398" width="2" height="4" fill="#fff" />
<rect x="114" y="398" width="2" height="2" fill="#fff" />
<rect x="114" y="465" width="4" height="2" fill="#fff" />
<rect x="115" y="464" width="2" height="4" fill="#fff" />
<rect x="114" y="464" width="2" height="2" fill="#fff" />
<rect x="114" y="471" width="4" height="2" fill="#fff" />
<rect x="115" y="470" width="2" height="4" fill="#fff" />
<rect x="114" y="470" width="2" height="2" fill="#fff" />
<rect x="114" y="478" width="4" height="2" fill="#fff" />
<rect x="115" y="477" width="2" height="4" fill="#fff" />
<rect x="114" y="477" width="2" height="2" fill="#fff" />
<rect x="121" y="385" width="4" height="2" fill="#fff" />
<rect x="122" y="384" width="2" height="4" fill="#fff" />
<rect x="123" y="386" width="2" height="2" fill="#fff" />
<rect x="121" y="392" width="4" height="2" fill="#fff" />
<rect x="122" y="391" width="2" height="4" fill="#fff" />
<rect x="123" y="393" width="2" height="2" fill="#fff" />
<rect x="121" y="399" width="4" height="2" fill="#fff" />
<rect x="122" y="398" width="2" height="4" fill="#fff" />
<rect x="123" y="400" width="2" height="2" fill="#fff" />
<rect x="121" y="465" width="4" height="2" fill="#fff" />
<rect x="122" y="464" width="2" height="4" fill="#fff" />
<rect x="123" y="466" width="2" height="2" fill="#fff" />
<rect x="121" y="471" width="4" height="2" fill="#fff" />
<rect x="122" y="470" width="2" height="4" fill="#fff" />
<rect x="123" y="472" width="2" height="2" fill="#fff" />
<rect x="121" y="478" width="4" height="2" fill="#fff" />
<rect x="122" y="477" width="2" height="4" fill="#fff" />
<rect x="123" y="479" width="2" height="2" fill="#fff" />
<rect x="128" y="385" width="4" height="2" fill="#fff" />
<rect x="129" y="384" width="2" height="4" fill="#fff" />
<rect x="128" y="392" width="4" height="2" fill="#fff" />
<rect x="129" y="391" width="2" height="4" fill="#fff" />
<rect x="128" y="399" width="4" height="2" fill="#fff" />
<rect x="129" y="398" width="2" height="4" fill="#fff" />
<rect x="128" y="465" width="4" height="2" fill="#fff" />
<rect x="129" y="464" width="2" height="4" fill="#fff" />
<rect x="128" y="471" width="4" height="2" fill="#fff" />
<rect x="129" y="470" width="2" height="4" fill="#fff" />
<rect x="128" y="478" width="4" height="2" fill="#fff" />
<rect x="129" y="477" width="2" height="4" fill="#fff" />
<rect x="134" y="385" width="4" height="2" fill="#fff" />
<rect x="135" y="384" width="2" height="4" fill="#fff" />
<rect x="134" y="384" width="2" height="2" fill="#fff" />
<rect x="134" y="392" width="4" height="2" fill="#fff" />
<rect x="135" y="391" width="2" height="4" fill="#fff" />
<rect x="134" y="391" width="2" height="2" fill="#fff" />
<rect x="134" y="399" width="4" height="2" fill="#fff" />
<rect x="135" y="398" width="2" height="4" fill="#fff" />
<rect x="134" y="398" width="2" height="2" fill="#fff" />
<rect x="134" y="465" width="4" height="2" fill="#fff" />
<rect x="135" y="464" width="2" height="4" fill="#fff" />
<rect x="134" y="464" width="2" height="2" fill="#fff" />
<rect x="134" y="471" width="4" height="2" fill="#fff" />
<rect x="135" y="470" width="2" height="4" fill="#fff" />
<rect x="134" y="470" width="2" height="2" fill="#fff" />
<rect x="134" y="478" width="4" height="2" fill="#fff" />
<rect x="135" y="477" width="2" height="4" fill="#fff" />
<rect x="134" y="477" width="2" height="2" fill="#fff" />
<rect x="141" y="385" width="4" height="2" fill="#fff" />
<rect x="142" y="384" width="2" height="4" fill="#fff" />
<rect x="143" y="386" width="2" height="2" fill="#fff" />
<rect x="141" y="392" width="4" height="2" fill="#fff" />
<rect x="142" y="391" width="2" height="4" fill="#fff" />
<rect x="143" y="393" width="2" height="2" fill="#fff" />
<rect x="141" y="399" width="4" height="2" fill="#fff" />
<rect x="142" y="398" width="2" height="4" fill="#fff" />
<rect x="143" y="400" width="2" height="2" fill="#fff" />
<rect x="141" y="465" width="4" height="2" fill="#fff" />
<rect x="142" y="464" width="2" height="4" fill="#fff" />
<rect x="143" y="466" width="2" height="2" fill="#fff" />
<rect x="141" y="471" width="4" height="2" fill="#fff" />
<rect x="142" y="470" width="2" height="4" fill="#fff" />
<rect x="143" y="472" width="2" height="2" fill="#fff" />
<rect x="141" y="478" width="4" height="2" fill="#fff" />
<rect x="142" y="477" width="2" height="4" fill="#fff" />
<rect x="143" y="479" width="2" height="2" fill="#fff" />
<rect x="148" y="385" width="4" height="2" fill="#fff" />
<rect x="149" y="384" width="2" height="4" fill="#fff" />
<rect x="148" y="392" width="4" height="2" fill="#fff" />
<rect x="149" y="391" width="2" height="4" fill="#fff" />
<rect x="148" y="399" width="4" height="2" fill="#fff" />
<rect x="149" y="398" width="2" height="4" fill="#fff" />
<rect x="148" y="465" width="4" height="2" fill="#fff" />
<rect x="149" y="464" width="2" height="4" fill="#fff" />
<rect x="148" y="471" width="4" height="2" fill="#fff" />
<rect x="149" y="470" width="2" height="4" fill="#fff" />
<rect x="148" y="478" width="4" height="2" fill="#fff" />
<rect x="149" y="477" width="2" height="4" fill="#fff" />
<rect x="155" y="385" width="4" height="2" fill="#fff" />
<rect x="156" y="384" width="2" height="4" fill="#fff" />
<rect x="155" y="384" width="2" height="2" fill="#fff" />
<rect x="155" y="392" width="4" height="2" fill="#fff" />
<rect x="156" y="391" width="2" height="4" fill="#fff" />
<rect x="155" y="391" width="2" height="2" fill="#fff" />
<rect x="155" y="399" width="4" height="2" fill="#fff" />
<rect x="156" y="398" width="2" height="4" fill="#fff" />
<rect x="155" y="398" width="2" height="2" fill="#fff" />
<rect x="155" y="465" width="4" height="2" fill="#fff" />
<rect x="156" y="464" width="2" height="4" fill="#fff" />
<rect x="155" y="464" width="2" height="2" fill="#fff" />
<rect x="155" y="471" width="4" height="2" fill="#fff" />
<rect x="156" y="470" width="2" height="4" fill="#fff" />
<rect x="155" y="470" width="2" height="2" fill="#fff" />
<rect x="155" y="478" width="4" height="2" fill="#fff" />
<rect x="156" y="477" width="2" height="4" fill="#fff" />
<rect x="155" y="477" width="2" height="2" fill="#fff" />
<rect x="162" y="385" width="4" height="2" fill="#fff" />
<rect x="163" y="384" width="2" height="4" fill="#fff" />
<rect x="164" y="386" width="2" height="2" fill="#fff" />
<rect x="162" y="392" width="4" height="2" fill="#fff" />
<rect x="163" y="391" width="2" height="4" fill="#fff" />
<rect x="164" y="393" width="2" height="2" fill="#fff" />
<rect x="162" y="399" width="4" height="2" fill="#fff" />
<rect x="163" y="398" width="2" height="4" fill="#fff" />
<rect x="164" y="400" width="2" height="2" fill="#fff" />
<rect x="162" y="465" width="4" height="2" fill="#fff" />
<rect x="163" y="464" width="2" height="4" fill="#fff" />
<rect x="164" y="466" width="2" height="2" fill="#fff" />
<rect x="162" y="471" width="4" height="2" fill="#fff" />
<rect x="163" y="470" width="2" height="4" fill="#fff" />
<rect x="164" y="472" width="2" height="2" fill="#fff" />
<rect x="162" y="478" width="4" height="2" fill="#fff" />
<rect x="163" y="477" width="2" height="4" fill="#fff" />
<rect x="164" y="479" width="2" height="2" fill="#fff" />
<rect x="168" y="385" width="4" height="2" fill="#fff" />
<rect x="169" y="384" width="2" height="4" fill="#fff" />
<rect x="168" y="392" width="4" height="2" fill="#fff" />
<rect x="169" y="391" width="2" height="4" fill="#fff" />
<rect x="168" y="399" width="4" height="2" fill="#fff" />
<rect x="169" y="398" width="2" height="4" fill="#fff" />
<rect x="168" y="465" width="4" height="2" fill="#fff" />
<rect x="169" y="464" width="2" height="4" fill="#fff" />
<rect x="168" y="471" width="4" height="2" fill="#fff" />
<rect x="169" y="470" width="2" height="4" fill="#fff" />
<rect x="168" y="478" width="4" height="2" fill="#fff" />
<rect x="169" y="477" width="2" height="4" fill="#fff" />
<rect x="175" y="385" width="4" height="2" fill="#fff" />
<rect x="176" y="384" width="2" height="4" fill="#fff" />
<rect x="175" y="384" width="2" height="2" fill="#fff" />
<rect x="175" y="392" width="4" height="2" fill="#fff" />
<rect x="176" y="391" width="2" height="4" fill="#fff" />
<rect x="175" y="391" width="2" height="2" fill="#fff" />
<rect x="175" y="399" width="4" height="2" fill="#fff" />
<rect x="176" y="398" width="2" height="4" fill="#fff" />
<rect x="175" y="398" width="2" height="2" fill="#fff" />
<rect x="175" y="405" width="4" height="2" fill="#fff" />
<rect x="176" y="404" width="2" height="4" fill="#fff" />
<rect x="175" y="404" width="2" height="2" fill="#fff" />
<rect x="175" y="412" width="4" height="2" fill="#fff" />
<rect x="176" y="411" width="2" height="4" fill="#fff" />
<rect x="175" y="411" width="2" height="2" fill="#fff" />
<rect x="175" y="418" width="4" height="2" fill="#fff" />
<rect x="176" y="417" width="2" height="4" fill="#fff" />
<rect x="175" y="417" width="2" height="2" fill="#fff" />
<rect x="175" y="425" width="4" height="2" fill="#fff" />
<rect x="176" y="424" width="2" height="4" fill="#fff" />
<rect x="175" y="424" width="2" height="2" fill="#fff" />
<rect x="175" y="432" width="4" height="2" fill="#fff" />
<rect x="176" y="431" width="2" height="4" fill="#fff" />
<rect x="175" y="431" width="2" height="2" fill="#fff" />
<rect x="175" y="438" width="4" height="2" fill="#fff" />
<rect x="176" y="437" width="2" height="4" fill="#fff" />
<rect x="175" y="437" width="2" height="2" fill="#fff" />
<rect x="175" y="445" width="4" height="2" fill="#fff" />
<rect x="176" y="444" width="2" height="4" fill="#fff" />
<rect x="175" y="444" width="2" height="2" fill="#fff" />
<rect x="175" y="451" width="4" height="2" fill="#fff" />
<rect x="176" y="450" width="2" height="4" fill="#fff" />
<rect x="175" y="450" width="2" height="2" fill="#fff" />
<rect x="175" y="458" width="4" height="2" fill="#fff" />
<rect x="176" y="457" width="2" height="4" fill="#fff" />
<rect x="175" y="457" width="2" height="2" fill="#fff" />
<rect x="175" y="465" width="4" height="2" fill="#fff" />
<rect x="176" y="464" width="2" height="4" fill="#fff" />
<rect x="175" y="464" width="2" height="2" fill="#fff" />
<rect x="175" y="471" width="4" height="2" fill="#fff" />
<rect x="176" y="470" width="2" height="4" fill="#fff" />
<rect x="175" y="470" width="2" height="2" fill="#fff" />
<rect x="175" y="478" width="4" height="2" fill="#fff" />
<rect x="176" y="477" width="2" height="4" fill="#fff" />
<rect x="175" y="477" width="2" height="2" fill="#fff" />
<rect x="182" y="385" width="4" height="2" fill="#fff" />
<rect x="183" y="384" width="2" height="4" fill="#fff" />
<rect x="184" y="386" width="2" height="2" fill="#fff" />
<rect x="182" y="392" width="4" height="2" fill="#fff" />
<rect x="183" y="391" width="2" height="4" fill="#fff" />
<rect x="184" y="393" width="2" height="2" fill="#fff" />
<rect x="182" y="399" width="4" height="2" fill="#fff" />
<rect x="183" y="398" width="2" height="4" fill="#fff" />
<rect x="184" y="400" width="2" height="2" fill="#fff" />
<rect x="182" y="405" width="4" height="2" fill="#fff" />
<rect x="183" y="404" width="2" height="4" fill="#fff" />
<rect x="184" y="406" width="2" height="2" fill="#fff" />
<rect x="182" y="412" width="4" height="2" fill="#fff" />
<rect x="183" y="411" width="2" height="4" fill="#fff" />
<rect x="184" y="413" width="2" height="2" fill="#fff" />
<rect x="182" y="418" width="4" height="2" fill="#fff" />
<rect x="183" y="417" width="2" height="4" fill="#fff" />
<rect x="184" y="419" width="2" height="2" fill="#fff" />
<rect x="182" y="425" width="4" height="2" fill="#fff" />
<rect x="183" y="424" width="2" height="4" fill="#fff" />
<rect x="184" y="426" width="2" height="2" fill="#fff" />
<rect x="182" y="432" width="4" height="2" fill="#fff" />
<rect x="183" y="431" width="2" height="4" fill="#fff" />
<rect x="184" y="433" width="2" height="2" fill="#fff" />
<rect x="182" y="438" width="4" height="2" fill="#fff" />
<rect x="183" y="437" width="2" height="4" fill="#fff" />
<rect x="184" y="439" width="2" height="2" fill="#fff" />
<rect x="182" y="445" width="4" height="2" fill="#fff" />
<rect x="183" y="444" width="2" height="4" fill="#fff" />
<rect x="184" y="446" width="2" height="2" fill="#fff" />
<rect x="182" y="451" width="4" height="2" fill="#fff" />
<rect x="183" y="450" width="2" height="4" fill="#fff" />
<rect x="184" y="452" width="2" height="2" fill="#fff" />
<rect x="182" y="458" width="4" height="2" fill="#fff" />
<rect x="183" y="457" width="2" height="4" fill="#fff" />
<rect x="184" y="459" width="2" height="2" fill="#fff" />
<rect x="182" y="465" width="4" height="2" fill="#fff" />
<rect x="183" y="464" width="2" height="4" fill="#fff" />
<rect x="184" y="466" width="2" height="2" fill="#fff" />
<rect x="182" y="471" width="4" height="2" fill="#fff" />
<rect x="183" y="470" width="2" height="4" fill="#fff" />
<rect x="184" y="472" width="2" height="2" fill="#fff" />
<rect x="182" y="478" width="4" height="2" fill="#fff" />
<rect x="183" y="477" width="2" height="4" fill="#fff" />
<rect x="184" y="479" width="2" height="2" fill="#fff" />
<rect x="189" y="385" width="4" height="2" fill="#fff" />
<rect x="190" y="384" width="2" height="4" fill="#fff" />
<rect x="189" y="392" width="4" height="2" fill="#fff" />
<rect x="190" y="391" width="2" height="4" fill="#fff" />
<rect x="189" y="399" width="4" height="2" fill="#fff" />
<rect x="190" y="398" width="2" height="4" fill="#fff" />
<rect x="189" y="405" width="4" height="2" fill="#fff" />
<rect x="190" y="404" width="2" height="4" fill="#fff" />
<rect x="189" y="412" width="4" height="2" fill="#fff" />
<rect x="190" y="411" width="2" height="4" fill="#fff" />
<rect x="189" y="418" width="4" height="2" fill="#fff" />
<rect x="190" y="417" width="2" height="4" fill="#fff" />
<rect x="189" y="425" width="4" height="2" fill="#fff" />
<rect x="190" y="424" width="2" height="4" fill="#fff" />
<rect x="189" y="432" width="4" height="2" fill="#fff" />
<rect x="190" y="431" width="2" height="4" fill="#fff" />
<rect x="189" y="438" width="4" height="2" fill="#fff" />
<rect x="190" y="437" width="2" height="4" fill="#fff" />
<rect x="189" y="445" width="4" height="2" fill="#fff" />
<rect x="190" y="444" width="2" height="4" fill="#fff" />
<rect x="189" y="451" width="4" height="2" fill="#fff" />
<rect x="190" y="450" width="2" height="4" fill="#fff" />
<rect x="189" y="458" width="4" height="2" fill="#fff" />
<rect x="190" y="457" width="2" height="4" fill="#fff" />
<rect x="189" y="465" width="4" height="2" fill="#fff" />
<rect x="190" y="464" width="2" height="4" fill="#fff" />
<rect x="189" y="471" width="4" height="2" fill="#fff" />
<rect x="190" y="470" width="2" height="4" fill="#fff" />
<rect x="189" y="478" width="4" height="2" fill="#fff" />
<rect x="190" y="477" width="2" height="4" fill="#fff" />
<rect x="117" y="406" width="53" height="53" fill="#fff" />
<rect x="119" y="452" width="5" height="5" fill="#000" />
<rect x="127" y="423" width="33" height="19" rx="4.5" ry="4.5" fill="#000" class="aa"/>
<rect x="130" y="426" width="28" height="14.4" rx="1.5" ry="1.5" fill="#fff" class="aa"/>
<rect x="156.6" y="427" width="0.7" height="12.4" fill="#000" class="aa"/>
<text transform="translate(129.26,439.00) scale(0.72,1)" font-size="14" textLength="36.92" lengthAdjust="spacing">CPU</text>
<line x1="67.5" y1="453" x2="77" y2="467.5" stroke="#000" stroke-width="3.4" class="aa"/>
<rect x="28" y="440" width="41.5" height="19" rx="4.3" ry="4.3" fill="#000" class="aa"/>
<rect x="30" y="441.5" width="36.5" height="15.0" rx="2.8" ry="2.8" fill="#fff" class="aa"/>
<text transform="translate(32.78,453.00) scale(0.72,1)" font-size="14" textLength="40.11" lengthAdjust="spacing">JP10</text>
<line x1="67.6" y1="455.5" x2="72.2" y2="462" stroke="#fff" stroke-width="0.9" class="aa"/>
<polygon points="49.50,466.50 52.00,470.00 54.50,471.80 58.30,473.40 62.50,474.50 67.00,475.10 67.00,476.90 62.50,477.50 58.30,478.60 54.50,480.20 52.00,482.00 49.50,484.50" fill="#000" class="aa"/>
<rect x="17" y="466" width="35.5" height="19" rx="4.3" ry="4.3" fill="#000" class="aa"/>
<rect x="19" y="467.5" width="31.5" height="15.0" rx="2.8" ry="2.8" fill="#fff" class="aa"/>
<polygon points="49.00,472.80 52.50,473.20 54.50,474.00 57.40,475.50 58.30,476.00 57.40,476.50 54.50,478.00 52.50,478.80 49.00,479.20" fill="#fff" class="aa"/>
<text transform="translate(22.00,479.00) scale(0.72,1)" font-size="14" textLength="32.85" lengthAdjust="spacing">JP9</text>
<polygon points="49.50,490.50 52.00,493.50 54.50,495.30 58.30,496.90 62.50,498.00 67.00,498.60 67.00,500.40 62.50,501.00 58.30,502.10 54.50,503.70 52.00,505.50 49.50,508.50" fill="#000" class="aa"/>
<rect x="11" y="490" width="41.5" height="19" rx="4.3" ry="4.3" fill="#000" class="aa"/>
<rect x="13" y="491.5" width="37.5" height="15.0" rx="2.8" ry="2.8" fill="#fff" class="aa"/>
<polygon points="49.00,496.30 52.50,496.70 54.50,497.50 57.40,499.00 58.30,499.50 57.40,500.00 54.50,501.50 52.50,502.30 49.00,502.70" fill="#fff" class="aa"/>
<text transform="translate(15.78,502.50) scale(0.72,1)" font-size="14" textLength="41.11" lengthAdjust="spacing">JP11</text>
<rect x="67" y="467" width="12" height="19" fill="#000" />
<rect x="68" y="468" width="4" height="4" fill="#fff" />
<rect x="69" y="469" width="2" height="2" fill="#000" />
<rect x="68" y="474" width="4" height="1" fill="#fff" />
<rect x="68" y="479" width="4" height="1" fill="#fff" />
<rect x="74" y="468" width="4" height="4" fill="#fff" />
<rect x="75" y="469" width="2" height="2" fill="#000" />
<rect x="74" y="474" width="4" height="1" fill="#fff" />
<rect x="74" y="479" width="4" height="1" fill="#fff" />
<rect x="72" y="474" width="1" height="11" fill="#fff" />
<rect x="67" y="493" width="7" height="13" fill="#000" />
<rect x="68" y="498" width="5" height="1" fill="#fff" />
<rect x="68" y="503" width="5" height="1" fill="#fff" />
<rect x="374" y="337" width="226" height="19" fill="#000" />
<rect x="375" y="338" width="224" height="17" fill="#fff" />
<rect x="375" y="344" width="6" height="1" fill="#000" />
<rect x="375" y="351" width="6" height="1" fill="#000" />
<rect x="381" y="337" width="4" height="17" fill="#000" />
<rect x="385" y="342" width="1" height="11" fill="#000" />
<rect x="382" y="352" width="1" height="1" fill="#fff" />
<rect x="385" y="338" width="8" height="1" fill="#000" />
<rect x="392" y="338" width="1" height="8" fill="#000" />
<rect x="386" y="342" width="2" height="2" fill="#000" />
<rect x="387" y="343" width="1" height="3" fill="#000" />
<rect x="387" y="345" width="6" height="1" fill="#000" />
<rect x="394" y="343" width="1" height="10" fill="#000" />
<rect x="392" y="343" width="3" height="1" fill="#000" />
<rect x="385" y="352" width="10" height="1" fill="#000" />
<rect x="592" y="344" width="7" height="1" fill="#000" />
<rect x="592" y="351" width="7" height="1" fill="#000" />
<rect x="588" y="337" width="4" height="17" fill="#000" />
<rect x="581" y="338" width="7" height="1" fill="#000" />
<rect x="581" y="338" width="1" height="8" fill="#000" />
<rect x="585" y="342" width="3" height="1" fill="#000" />
<rect x="585" y="342" width="1" height="4" fill="#000" />
<rect x="581" y="345" width="5" height="1" fill="#000" />
<rect x="578" y="343" width="1" height="10" fill="#000" />
<rect x="578" y="343" width="4" height="1" fill="#000" />
<rect x="578" y="352" width="10" height="1" fill="#000" />
<rect x="381" y="337" width="1" height="19" fill="#000" />
<rect x="591" y="337" width="1" height="19" fill="#000" />
<rect x="400" y="340" width="174" height="5" fill="#000" />
<rect x="399" y="345" width="175" height="8" fill="#000" />
<rect x="402" y="346" width="4" height="6" fill="#fff" />
<rect x="404" y="341" width="1" height="4" fill="#fff" />
<rect x="408" y="346" width="4" height="6" fill="#fff" />
<rect x="409" y="341" width="2" height="4" fill="#fff" />
<rect x="414" y="346" width="4" height="6" fill="#fff" />
<rect x="415" y="341" width="2" height="4" fill="#fff" />
<rect x="420" y="346" width="4" height="6" fill="#fff" />
<rect x="422" y="341" width="1" height="4" fill="#fff" />
<rect x="426" y="346" width="4" height="6" fill="#fff" />
<rect x="428" y="341" width="1" height="5" fill="#fff" />
<rect x="432" y="346" width="4" height="6" fill="#fff" />
<rect x="433" y="341" width="2" height="4" fill="#fff" />
<rect x="437" y="346" width="4" height="6" fill="#fff" />
<rect x="439" y="341" width="1" height="4" fill="#fff" />
<rect x="443" y="346" width="4" height="6" fill="#fff" />
<rect x="444" y="341" width="2" height="4" fill="#fff" />
<rect x="449" y="346" width="4" height="6" fill="#fff" />
<rect x="450" y="341" width="2" height="4" fill="#fff" />
<rect x="455" y="346" width="4" height="6" fill="#fff" />
<rect x="457" y="341" width="1" height="5" fill="#fff" />
<rect x="461" y="346" width="4" height="6" fill="#fff" />
<rect x="462" y="341" width="2" height="4" fill="#fff" />
<rect x="467" y="346" width="4" height="6" fill="#fff" />
<rect x="468" y="341" width="2" height="4" fill="#fff" />
<rect x="473" y="346" width="4" height="6" fill="#fff" />
<rect x="475" y="341" width="1" height="4" fill="#fff" />
<rect x="479" y="346" width="4" height="6" fill="#fff" />
<rect x="480" y="341" width="2" height="4" fill="#fff" />
<rect x="485" y="346" width="4" height="6" fill="#fff" />
<rect x="487" y="341" width="1" height="5" fill="#fff" />
<rect x="490" y="346" width="4" height="6" fill="#fff" />
<rect x="492" y="341" width="1" height="4" fill="#fff" />
<rect x="496" y="346" width="4" height="6" fill="#fff" />
<rect x="497" y="341" width="2" height="4" fill="#fff" />
<rect x="502" y="346" width="4" height="6" fill="#fff" />
<rect x="503" y="341" width="2" height="4" fill="#fff" />
<rect x="508" y="346" width="4" height="6" fill="#fff" />
<rect x="510" y="341" width="1" height="4" fill="#fff" />
<rect x="514" y="346" width="4" height="6" fill="#fff" />
<rect x="516" y="341" width="1" height="5" fill="#fff" />
<rect x="520" y="346" width="4" height="6" fill="#fff" />
<rect x="521" y="341" width="2" height="4" fill="#fff" />
<rect x="526" y="346" width="4" height="6" fill="#fff" />
<rect x="528" y="341" width="1" height="4" fill="#fff" />
<rect x="532" y="346" width="4" height="6" fill="#fff" />
<rect x="533" y="341" width="2" height="4" fill="#fff" />
<rect x="538" y="346" width="4" height="6" fill="#fff" />
<rect x="539" y="341" width="2" height="4" fill="#fff" />
<rect x="544" y="346" width="4" height="6" fill="#fff" />
<rect x="546" y="341" width="1" height="5" fill="#fff" />
<rect x="550" y="346" width="4" height="6" fill="#fff" />
<rect x="551" y="341" width="2" height="4" fill="#fff" />
<rect x="555" y="346" width="4" height="6" fill="#fff" />
<rect x="556" y="341" width="2" height="4" fill="#fff" />
<rect x="561" y="346" width="4" height="6" fill="#fff" />
<rect x="563" y="341" width="1" height="4" fill="#fff" />
<rect x="567" y="346" width="4" height="6" fill="#fff" />
<rect x="568" y="341" width="2" height="4" fill="#fff" />
<rect x="399" y="353" width="175" height="1" fill="#fff" />
<rect x="400" y="353" width="2" height="1" fill="#000" />
<rect x="403" y="353" width="2" height="1" fill="#000" />
<rect x="406" y="353" width="2" height="1" fill="#000" />
<rect x="409" y="353" width="2" height="1" fill="#000" />
<rect x="412" y="353" width="2" height="1" fill="#000" />
<rect x="415" y="353" width="2" height="1" fill="#000" />
<rect x="418" y="353" width="2" height="1" fill="#000" />
<rect x="421" y="353" width="2" height="1" fill="#000" />
<rect x="424" y="353" width="2" height="1" fill="#000" />
<rect x="427" y="353" width="2" height="1" fill="#000" />
<rect x="430" y="353" width="2" height="1" fill="#000" />
<rect x="433" y="353" width="2" height="1" fill="#000" />
<rect x="436" y="353" width="2" height="1" fill="#000" />
<rect x="439" y="353" width="2" height="1" fill="#000" />
<rect x="442" y="353" width="2" height="1" fill="#000" />
<rect x="445" y="353" width="2" height="1" fill="#000" />
<rect x="448" y="353" width="2" height="1" fill="#000" />
<rect x="451" y="353" width="2" height="1" fill="#000" />
<rect x="454" y="353" width="2" height="1" fill="#000" />
<rect x="457" y="353" width="2" height="1" fill="#000" />
<rect x="460" y="353" width="2" height="1" fill="#000" />
<rect x="463" y="353" width="2" height="1" fill="#000" />
<rect x="466" y="353" width="2" height="1" fill="#000" />
<rect x="469" y="353" width="2" height="1" fill="#000" />
<rect x="472" y="353" width="2" height="1" fill="#000" />
<rect x="475" y="353" width="2" height="1" fill="#000" />
<rect x="478" y="353" width="2" height="1" fill="#000" />
<rect x="481" y="353" width="2" height="1" fill="#000" />
<rect x="484" y="353" width="2" height="1" fill="#000" />
<rect x="487" y="353" width="2" height="1" fill="#000" />
<rect x="490" y="353" width="2" height="1" fill="#000" />
<rect x="493" y="353" width="2" height="1" fill="#000" />
<rect x="496" y="353" width="2" height="1" fill="#000" />
<rect x="499" y="353" width="2" height="1" fill="#000" />
<rect x="502" y="353" width="2" height="1" fill="#000" />
<rect x="505" y="353" width="2" height="1" fill="#000" />
<rect x="508" y="353" width="2" height="1" fill="#000" />
<rect x="511" y="353" width="2" height="1" fill="#000" />
<rect x="514" y="353" width="2" height="1" fill="#000" />
<rect x="517" y="353" width="2" height="1" fill="#000" />
<rect x="520" y="353" width="2" height="1" fill="#000" />
<rect x="523" y="353" width="2" height="1" fill="#000" />
<rect x="526" y="353" width="2" height="1" fill="#000" />
<rect x="529" y="353" width="2" height="1" fill="#000" />
<rect x="532" y="353" width="2" height="1" fill="#000" />
<rect x="535" y="353" width="2" height="1" fill="#000" />
<rect x="538" y="353" width="2" height="1" fill="#000" />
<rect x="541" y="353" width="2" height="1" fill="#000" />
<rect x="544" y="353" width="2" height="1" fill="#000" />
<rect x="547" y="353" width="2" height="1" fill="#000" />
<rect x="550" y="353" width="2" height="1" fill="#000" />
<rect x="553" y="353" width="2" height="1" fill="#000" />
<rect x="556" y="353" width="2" height="1" fill="#000" />
<rect x="559" y="353" width="2" height="1" fill="#000" />
<rect x="562" y="353" width="2" height="1" fill="#000" />
<rect x="565" y="353" width="2" height="1" fill="#000" />
<rect x="568" y="353" width="2" height="1" fill="#000" />
<rect x="571" y="353" width="2" height="1" fill="#000" />
<rect x="374" y="357" width="226" height="19" fill="#000" />
<rect x="375" y="358" width="224" height="17" fill="#fff" />
<rect x="375" y="364" width="6" height="1" fill="#000" />
<rect x="375" y="371" width="6" height="1" fill="#000" />
<rect x="381" y="357" width="4" height="17" fill="#000" />
<rect x="385" y="362" width="1" height="11" fill="#000" />
<rect x="382" y="372" width="1" height="1" fill="#fff" />
<rect x="385" y="358" width="8" height="1" fill="#000" />
<rect x="392" y="358" width="1" height="8" fill="#000" />
<rect x="386" y="362" width="2" height="2" fill="#000" />
<rect x="387" y="363" width="1" height="3" fill="#000" />
<rect x="387" y="365" width="6" height="1" fill="#000" />
<rect x="394" y="363" width="1" height="10" fill="#000" />
<rect x="392" y="363" width="3" height="1" fill="#000" />
<rect x="385" y="372" width="10" height="1" fill="#000" />
<rect x="592" y="364" width="7" height="1" fill="#000" />
<rect x="592" y="371" width="7" height="1" fill="#000" />
<rect x="588" y="357" width="4" height="17" fill="#000" />
<rect x="581" y="358" width="7" height="1" fill="#000" />
<rect x="581" y="358" width="1" height="8" fill="#000" />
<rect x="585" y="362" width="3" height="1" fill="#000" />
<rect x="585" y="362" width="1" height="4" fill="#000" />
<rect x="581" y="365" width="5" height="1" fill="#000" />
<rect x="578" y="363" width="1" height="10" fill="#000" />
<rect x="578" y="363" width="4" height="1" fill="#000" />
<rect x="578" y="372" width="10" height="1" fill="#000" />
<rect x="381" y="357" width="1" height="19" fill="#000" />
<rect x="591" y="357" width="1" height="19" fill="#000" />
<rect x="400" y="360" width="174" height="5" fill="#000" />
<rect x="399" y="365" width="175" height="8" fill="#000" />
<rect x="402" y="366" width="4" height="6" fill="#fff" />
<rect x="404" y="361" width="1" height="4" fill="#fff" />
<rect x="408" y="366" width="4" height="6" fill="#fff" />
<rect x="409" y="361" width="2" height="4" fill="#fff" />
<rect x="414" y="366" width="4" height="6" fill="#fff" />
<rect x="415" y="361" width="2" height="4" fill="#fff" />
<rect x="420" y="366" width="4" height="6" fill="#fff" />
<rect x="422" y="361" width="1" height="4" fill="#fff" />
<rect x="426" y="366" width="4" height="6" fill="#fff" />
<rect x="428" y="361" width="1" height="5" fill="#fff" />
<rect x="432" y="366" width="4" height="6" fill="#fff" />
<rect x="433" y="361" width="2" height="4" fill="#fff" />
<rect x="437" y="366" width="4" height="6" fill="#fff" />
<rect x="439" y="361" width="1" height="4" fill="#fff" />
<rect x="443" y="366" width="4" height="6" fill="#fff" />
<rect x="444" y="361" width="2" height="4" fill="#fff" />
<rect x="449" y="366" width="4" height="6" fill="#fff" />
<rect x="450" y="361" width="2" height="4" fill="#fff" />
<rect x="455" y="366" width="4" height="6" fill="#fff" />
<rect x="457" y="361" width="1" height="5" fill="#fff" />
<rect x="461" y="366" width="4" height="6" fill="#fff" />
<rect x="462" y="361" width="2" height="4" fill="#fff" />
<rect x="467" y="366" width="4" height="6" fill="#fff" />
<rect x="468" y="361" width="2" height="4" fill="#fff" />
<rect x="473" y="366" width="4" height="6" fill="#fff" />
<rect x="475" y="361" width="1" height="4" fill="#fff" />
<rect x="479" y="366" width="4" height="6" fill="#fff" />
<rect x="480" y="361" width="2" height="4" fill="#fff" />
<rect x="485" y="366" width="4" height="6" fill="#fff" />
<rect x="487" y="361" width="1" height="5" fill="#fff" />
<rect x="490" y="366" width="4" height="6" fill="#fff" />
<rect x="492" y="361" width="1" height="4" fill="#fff" />
<rect x="496" y="366" width="4" height="6" fill="#fff" />
<rect x="497" y="361" width="2" height="4" fill="#fff" />
<rect x="502" y="366" width="4" height="6" fill="#fff" />
<rect x="503" y="361" width="2" height="4" fill="#fff" />
<rect x="508" y="366" width="4" height="6" fill="#fff" />
<rect x="510" y="361" width="1" height="4" fill="#fff" />
<rect x="514" y="366" width="4" height="6" fill="#fff" />
<rect x="516" y="361" width="1" height="5" fill="#fff" />
<rect x="520" y="366" width="4" height="6" fill="#fff" />
<rect x="521" y="361" width="2" height="4" fill="#fff" />
<rect x="526" y="366" width="4" height="6" fill="#fff" />
<rect x="528" y="361" width="1" height="4" fill="#fff" />
<rect x="532" y="366" width="4" height="6" fill="#fff" />
<rect x="533" y="361" width="2" height="4" fill="#fff" />
<rect x="538" y="366" width="4" height="6" fill="#fff" />
<rect x="539" y="361" width="2" height="4" fill="#fff" />
<rect x="544" y="366" width="4" height="6" fill="#fff" />
<rect x="546" y="361" width="1" height="5" fill="#fff" />
<rect x="550" y="366" width="4" height="6" fill="#fff" />
<rect x="551" y="361" width="2" height="4" fill="#fff" />
<rect x="555" y="366" width="4" height="6" fill="#fff" />
<rect x="556" y="361" width="2" height="4" fill="#fff" />
<rect x="561" y="366" width="4" height="6" fill="#fff" />
<rect x="563" y="361" width="1" height="4" fill="#fff" />
<rect x="567" y="366" width="4" height="6" fill="#fff" />
<rect x="568" y="361" width="2" height="4" fill="#fff" />
<rect x="399" y="373" width="175" height="1" fill="#fff" />
<rect x="400" y="373" width="2" height="1" fill="#000" />
<rect x="403" y="373" width="2" height="1" fill="#000" />
<rect x="406" y="373" width="2" height="1" fill="#000" />
<rect x="409" y="373" width="2" height="1" fill="#000" />
<rect x="412" y="373" width="2" height="1" fill="#000" />
<rect x="415" y="373" width="2" height="1" fill="#000" />
<rect x="418" y="373" width="2" height="1" fill="#000" />
<rect x="421" y="373" width="2" height="1" fill="#000" />
<rect x="424" y="373" width="2" height="1" fill="#000" />
<rect x="427" y="373" width="2" height="1" fill="#000" />
<rect x="430" y="373" width="2" height="1" fill="#000" />
<rect x="433" y="373" width="2" height="1" fill="#000" />
<rect x="436" y="373" width="2" height="1" fill="#000" />
<rect x="439" y="373" width="2" height="1" fill="#000" />
<rect x="442" y="373" width="2" height="1" fill="#000" />
<rect x="445" y="373" width="2" height="1" fill="#000" />
<rect x="448" y="373" width="2" height="1" fill="#000" />
<rect x="451" y="373" width="2" height="1" fill="#000" />
<rect x="454" y="373" width="2" height="1" fill="#000" />
<rect x="457" y="373" width="2" height="1" fill="#000" />
<rect x="460" y="373" width="2" height="1" fill="#000" />
<rect x="463" y="373" width="2" height="1" fill="#000" />
<rect x="466" y="373" width="2" height="1" fill="#000" />
<rect x="469" y="373" width="2" height="1" fill="#000" />
<rect x="472" y="373" width="2" height="1" fill="#000" />
<rect x="475" y="373" width="2" height="1" fill="#000" />
<rect x="478" y="373" width="2" height="1" fill="#000" />
<rect x="481" y="373" width="2" height="1" fill="#000" />
<rect x="484" y="373" width="2" height="1" fill="#000" />
<rect x="487" y="373" width="2" height="1" fill="#000" />
<rect x="490" y="373" width="2" height="1" fill="#000" />
<rect x="493" y="373" width="2" height="1" fill="#000" />
<rect x="496" y="373" width="2" height="1" fill="#000" />
<rect x="499" y="373" width="2" height="1" fill="#000" />
<rect x="502" y="373" width="2" height="1" fill="#000" />
<rect x="505" y="373" width="2" height="1" fill="#000" />
<rect x="508" y="373" width="2" height="1" fill="#000" />
<rect x="511" y="373" width="2" height="1" fill="#000" />
<rect x="514" y="373" width="2" height="1" fill="#000" />
<rect x="517" y="373" width="2" height="1" fill="#000" />
<rect x="520" y="373" width="2" height="1" fill="#000" />
<rect x="523" y="373" width="2" height="1" fill="#000" />
<rect x="526" y="373" width="2" height="1" fill="#000" />
<rect x="529" y="373" width="2" height="1" fill="#000" />
<rect x="532" y="373" width="2" height="1" fill="#000" />
<rect x="535" y="373" width="2" height="1" fill="#000" />
<rect x="538" y="373" width="2" height="1" fill="#000" />
<rect x="541" y="373" width="2" height="1" fill="#000" />
<rect x="544" y="373" width="2" height="1" fill="#000" />
<rect x="547" y="373" width="2" height="1" fill="#000" />
<rect x="550" y="373" width="2" height="1" fill="#000" />
<rect x="553" y="373" width="2" height="1" fill="#000" />
<rect x="556" y="373" width="2" height="1" fill="#000" />
<rect x="559" y="373" width="2" height="1" fill="#000" />
<rect x="562" y="373" width="2" height="1" fill="#000" />
<rect x="565" y="373" width="2" height="1" fill="#000" />
<rect x="568" y="373" width="2" height="1" fill="#000" />
<rect x="571" y="373" width="2" height="1" fill="#000" />
<rect x="374" y="377" width="226" height="19" fill="#000" />
<rect x="375" y="378" width="224" height="17" fill="#fff" />
<rect x="375" y="384" width="6" height="1" fill="#000" />
<rect x="375" y="391" width="6" height="1" fill="#000" />
<rect x="381" y="377" width="4" height="17" fill="#000" />
<rect x="385" y="382" width="1" height="11" fill="#000" />
<rect x="382" y="392" width="1" height="1" fill="#fff" />
<rect x="385" y="378" width="8" height="1" fill="#000" />
<rect x="392" y="378" width="1" height="8" fill="#000" />
<rect x="386" y="382" width="2" height="2" fill="#000" />
<rect x="387" y="383" width="1" height="3" fill="#000" />
<rect x="387" y="385" width="6" height="1" fill="#000" />
<rect x="394" y="383" width="1" height="10" fill="#000" />
<rect x="392" y="383" width="3" height="1" fill="#000" />
<rect x="385" y="392" width="10" height="1" fill="#000" />
<rect x="592" y="384" width="7" height="1" fill="#000" />
<rect x="592" y="391" width="7" height="1" fill="#000" />
<rect x="588" y="377" width="4" height="17" fill="#000" />
<rect x="581" y="378" width="7" height="1" fill="#000" />
<rect x="581" y="378" width="1" height="8" fill="#000" />
<rect x="585" y="382" width="3" height="1" fill="#000" />
<rect x="585" y="382" width="1" height="4" fill="#000" />
<rect x="581" y="385" width="5" height="1" fill="#000" />
<rect x="578" y="383" width="1" height="10" fill="#000" />
<rect x="578" y="383" width="4" height="1" fill="#000" />
<rect x="578" y="392" width="10" height="1" fill="#000" />
<rect x="381" y="377" width="1" height="19" fill="#000" />
<rect x="591" y="377" width="1" height="19" fill="#000" />
<rect x="400" y="380" width="174" height="5" fill="#000" />
<rect x="399" y="385" width="175" height="8" fill="#000" />
<rect x="402" y="386" width="4" height="6" fill="#fff" />
<rect x="404" y="381" width="1" height="4" fill="#fff" />
<rect x="408" y="386" width="4" height="6" fill="#fff" />
<rect x="409" y="381" width="2" height="4" fill="#fff" />
<rect x="414" y="386" width="4" height="6" fill="#fff" />
<rect x="415" y="381" width="2" height="4" fill="#fff" />
<rect x="420" y="386" width="4" height="6" fill="#fff" />
<rect x="422" y="381" width="1" height="4" fill="#fff" />
<rect x="426" y="386" width="4" height="6" fill="#fff" />
<rect x="428" y="381" width="1" height="5" fill="#fff" />
<rect x="432" y="386" width="4" height="6" fill="#fff" />
<rect x="433" y="381" width="2" height="4" fill="#fff" />
<rect x="437" y="386" width="4" height="6" fill="#fff" />
<rect x="439" y="381" width="1" height="4" fill="#fff" />
<rect x="443" y="386" width="4" height="6" fill="#fff" />
<rect x="444" y="381" width="2" height="4" fill="#fff" />
<rect x="449" y="386" width="4" height="6" fill="#fff" />
<rect x="450" y="381" width="2" height="4" fill="#fff" />
<rect x="455" y="386" width="4" height="6" fill="#fff" />
<rect x="457" y="381" width="1" height="5" fill="#fff" />
<rect x="461" y="386" width="4" height="6" fill="#fff" />
<rect x="462" y="381" width="2" height="4" fill="#fff" />
<rect x="467" y="386" width="4" height="6" fill="#fff" />
<rect x="468" y="381" width="2" height="4" fill="#fff" />
<rect x="473" y="386" width="4" height="6" fill="#fff" />
<rect x="475" y="381" width="1" height="4" fill="#fff" />
<rect x="479" y="386" width="4" height="6" fill="#fff" />
<rect x="480" y="381" width="2" height="4" fill="#fff" />
<rect x="485" y="386" width="4" height="6" fill="#fff" />
<rect x="487" y="381" width="1" height="5" fill="#fff" />
<rect x="490" y="386" width="4" height="6" fill="#fff" />
<rect x="492" y="381" width="1" height="4" fill="#fff" />
<rect x="496" y="386" width="4" height="6" fill="#fff" />
<rect x="497" y="381" width="2" height="4" fill="#fff" />
<rect x="502" y="386" width="4" height="6" fill="#fff" />
<rect x="503" y="381" width="2" height="4" fill="#fff" />
<rect x="508" y="386" width="4" height="6" fill="#fff" />
<rect x="510" y="381" width="1" height="4" fill="#fff" />
<rect x="514" y="386" width="4" height="6" fill="#fff" />
<rect x="516" y="381" width="1" height="5" fill="#fff" />
<rect x="520" y="386" width="4" height="6" fill="#fff" />
<rect x="521" y="381" width="2" height="4" fill="#fff" />
<rect x="526" y="386" width="4" height="6" fill="#fff" />
<rect x="528" y="381" width="1" height="4" fill="#fff" />
<rect x="532" y="386" width="4" height="6" fill="#fff" />
<rect x="533" y="381" width="2" height="4" fill="#fff" />
<rect x="538" y="386" width="4" height="6" fill="#fff" />
<rect x="539" y="381" width="2" height="4" fill="#fff" />
<rect x="544" y="386" width="4" height="6" fill="#fff" />
<rect x="546" y="381" width="1" height="5" fill="#fff" />
<rect x="550" y="386" width="4" height="6" fill="#fff" />
<rect x="551" y="381" width="2" height="4" fill="#fff" />
<rect x="555" y="386" width="4" height="6" fill="#fff" />
<rect x="556" y="381" width="2" height="4" fill="#fff" />
<rect x="561" y="386" width="4" height="6" fill="#fff" />
<rect x="563" y="381" width="1" height="4" fill="#fff" />
<rect x="567" y="386" width="4" height="6" fill="#fff" />
<rect x="568" y="381" width="2" height="4" fill="#fff" />
<rect x="399" y="393" width="175" height="1" fill="#fff" />
<rect x="400" y="393" width="2" height="1" fill="#000" />
<rect x="403" y="393" width="2" height="1" fill="#000" />
<rect x="406" y="393" width="2" height="1" fill="#000" />
<rect x="409" y="393" width="2" height="1" fill="#000" />
<rect x="412" y="393" width="2" height="1" fill="#000" />
<rect x="415" y="393" width="2" height="1" fill="#000" />
<rect x="418" y="393" width="2" height="1" fill="#000" />
<rect x="421" y="393" width="2" height="1" fill="#000" />
<rect x="424" y="393" width="2" height="1" fill="#000" />
<rect x="427" y="393" width="2" height="1" fill="#000" />
<rect x="430" y="393" width="2" height="1" fill="#000" />
<rect x="433" y="393" width="2" height="1" fill="#000" />
<rect x="436" y="393" width="2" height="1" fill="#000" />
<rect x="439" y="393" width="2" height="1" fill="#000" />
<rect x="442" y="393" width="2" height="1" fill="#000" />
<rect x="445" y="393" width="2" height="1" fill="#000" />
<rect x="448" y="393" width="2" height="1" fill="#000" />
<rect x="451" y="393" width="2" height="1" fill="#000" />
<rect x="454" y="393" width="2" height="1" fill="#000" />
<rect x="457" y="393" width="2" height="1" fill="#000" />
<rect x="460" y="393" width="2" height="1" fill="#000" />
<rect x="463" y="393" width="2" height="1" fill="#000" />
<rect x="466" y="393" width="2" height="1" fill="#000" />
<rect x="469" y="393" width="2" height="1" fill="#000" />
<rect x="472" y="393" width="2" height="1" fill="#000" />
<rect x="475" y="393" width="2" height="1" fill="#000" />
<rect x="478" y="393" width="2" height="1" fill="#000" />
<rect x="481" y="393" width="2" height="1" fill="#000" />
<rect x="484" y="393" width="2" height="1" fill="#000" />
<rect x="487" y="393" width="2" height="1" fill="#000" />
<rect x="490" y="393" width="2" height="1" fill="#000" />
<rect x="493" y="393" width="2" height="1" fill="#000" />
<rect x="496" y="393" width="2" height="1" fill="#000" />
<rect x="499" y="393" width="2" height="1" fill="#000" />
<rect x="502" y="393" width="2" height="1" fill="#000" />
<rect x="505" y="393" width="2" height="1" fill="#000" />
<rect x="508" y="393" width="2" height="1" fill="#000" />
<rect x="511" y="393" width="2" height="1" fill="#000" />
<rect x="514" y="393" width="2" height="1" fill="#000" />
<rect x="517" y="393" width="2" height="1" fill="#000" />
<rect x="520" y="393" width="2" height="1" fill="#000" />
<rect x="523" y="393" width="2" height="1" fill="#000" />
<rect x="526" y="393" width="2" height="1" fill="#000" />
<rect x="529" y="393" width="2" height="1" fill="#000" />
<rect x="532" y="393" width="2" height="1" fill="#000" />
<rect x="535" y="393" width="2" height="1" fill="#000" />
<rect x="538" y="393" width="2" height="1" fill="#000" />
<rect x="541" y="393" width="2" height="1" fill="#000" />
<rect x="544" y="393" width="2" height="1" fill="#000" />
<rect x="547" y="393" width="2" height="1" fill="#000" />
<rect x="550" y="393" width="2" height="1" fill="#000" />
<rect x="553" y="393" width="2" height="1" fill="#000" />
<rect x="556" y="393" width="2" height="1" fill="#000" />
<rect x="559" y="393" width="2" height="1" fill="#000" />
<rect x="562" y="393" width="2" height="1" fill="#000" />
<rect x="565" y="393" width="2" height="1" fill="#000" />
<rect x="568" y="393" width="2" height="1" fill="#000" />
<rect x="571" y="393" width="2" height="1" fill="#000" />
<rect x="374" y="398" width="226" height="19" fill="#000" />
<rect x="375" y="399" width="224" height="17" fill="#fff" />
<rect x="375" y="405" width="6" height="1" fill="#000" />
<rect x="375" y="412" width="6" height="1" fill="#000" />
<rect x="381" y="398" width="4" height="17" fill="#000" />
<rect x="385" y="403" width="1" height="11" fill="#000" />
<rect x="382" y="413" width="1" height="1" fill="#fff" />
<rect x="385" y="399" width="8" height="1" fill="#000" />
<rect x="392" y="399" width="1" height="8" fill="#000" />
<rect x="386" y="403" width="2" height="2" fill="#000" />
<rect x="387" y="404" width="1" height="3" fill="#000" />
<rect x="387" y="406" width="6" height="1" fill="#000" />
<rect x="394" y="404" width="1" height="10" fill="#000" />
<rect x="392" y="404" width="3" height="1" fill="#000" />
<rect x="385" y="413" width="10" height="1" fill="#000" />
<rect x="592" y="405" width="7" height="1" fill="#000" />
<rect x="592" y="412" width="7" height="1" fill="#000" />
<rect x="588" y="398" width="4" height="17" fill="#000" />
<rect x="581" y="399" width="7" height="1" fill="#000" />
<rect x="581" y="399" width="1" height="8" fill="#000" />
<rect x="585" y="403" width="3" height="1" fill="#000" />
<rect x="585" y="403" width="1" height="4" fill="#000" />
<rect x="581" y="406" width="5" height="1" fill="#000" />
<rect x="578" y="404" width="1" height="10" fill="#000" />
<rect x="578" y="404" width="4" height="1" fill="#000" />
<rect x="578" y="413" width="10" height="1" fill="#000" />
<rect x="381" y="398" width="1" height="19" fill="#000" />
<rect x="591" y="398" width="1" height="19" fill="#000" />
<rect x="400" y="401" width="174" height="5" fill="#000" />
<rect x="399" y="406" width="175" height="8" fill="#000" />
<rect x="402" y="407" width="4" height="6" fill="#fff" />
<rect x="404" y="402" width="1" height="4" fill="#fff" />
<rect x="408" y="407" width="4" height="6" fill="#fff" />
<rect x="409" y="402" width="2" height="4" fill="#fff" />
<rect x="414" y="407" width="4" height="6" fill="#fff" />
<rect x="415" y="402" width="2" height="4" fill="#fff" />
<rect x="420" y="407" width="4" height="6" fill="#fff" />
<rect x="422" y="402" width="1" height="4" fill="#fff" />
<rect x="426" y="407" width="4" height="6" fill="#fff" />
<rect x="428" y="402" width="1" height="5" fill="#fff" />
<rect x="432" y="407" width="4" height="6" fill="#fff" />
<rect x="433" y="402" width="2" height="4" fill="#fff" />
<rect x="437" y="407" width="4" height="6" fill="#fff" />
<rect x="439" y="402" width="1" height="4" fill="#fff" />
<rect x="443" y="407" width="4" height="6" fill="#fff" />
<rect x="444" y="402" width="2" height="4" fill="#fff" />
<rect x="449" y="407" width="4" height="6" fill="#fff" />
<rect x="450" y="402" width="2" height="4" fill="#fff" />
<rect x="455" y="407" width="4" height="6" fill="#fff" />
<rect x="457" y="402" width="1" height="5" fill="#fff" />
<rect x="461" y="407" width="4" height="6" fill="#fff" />
<rect x="462" y="402" width="2" height="4" fill="#fff" />
<rect x="467" y="407" width="4" height="6" fill="#fff" />
<rect x="468" y="402" width="2" height="4" fill="#fff" />
<rect x="473" y="407" width="4" height="6" fill="#fff" />
<rect x="475" y="402" width="1" height="4" fill="#fff" />
<rect x="479" y="407" width="4" height="6" fill="#fff" />
<rect x="480" y="402" width="2" height="4" fill="#fff" />
<rect x="485" y="407" width="4" height="6" fill="#fff" />
<rect x="487" y="402" width="1" height="5" fill="#fff" />
<rect x="490" y="407" width="4" height="6" fill="#fff" />
<rect x="492" y="402" width="1" height="4" fill="#fff" />
<rect x="496" y="407" width="4" height="6" fill="#fff" />
<rect x="497" y="402" width="2" height="4" fill="#fff" />
<rect x="502" y="407" width="4" height="6" fill="#fff" />
<rect x="503" y="402" width="2" height="4" fill="#fff" />
<rect x="508" y="407" width="4" height="6" fill="#fff" />
<rect x="510" y="402" width="1" height="4" fill="#fff" />
<rect x="514" y="407" width="4" height="6" fill="#fff" />
<rect x="516" y="402" width="1" height="5" fill="#fff" />
<rect x="520" y="407" width="4" height="6" fill="#fff" />
<rect x="521" y="402" width="2" height="4" fill="#fff" />
<rect x="526" y="407" width="4" height="6" fill="#fff" />
<rect x="528" y="402" width="1" height="4" fill="#fff" />
<rect x="532" y="407" width="4" height="6" fill="#fff" />
<rect x="533" y="402" width="2" height="4" fill="#fff" />
<rect x="538" y="407" width="4" height="6" fill="#fff" />
<rect x="539" y="402" width="2" height="4" fill="#fff" />
<rect x="544" y="407" width="4" height="6" fill="#fff" />
<rect x="546" y="402" width="1" height="5" fill="#fff" />
<rect x="550" y="407" width="4" height="6" fill="#fff" />
<rect x="551" y="402" width="2" height="4" fill="#fff" />
<rect x="555" y="407" width="4" height="6" fill="#fff" />
<rect x="556" y="402" width="2" height="4" fill="#fff" />
<rect x="561" y="407" width="4" height="6" fill="#fff" />
<rect x="563" y="402" width="1" height="4" fill="#fff" />
<rect x="567" y="407" width="4" height="6" fill="#fff" />
<rect x="568" y="402" width="2" height="4" fill="#fff" />
<rect x="399" y="414" width="175" height="1" fill="#fff" />
<rect x="400" y="414" width="2" height="1" fill="#000" />
<rect x="403" y="414" width="2" height="1" fill="#000" />
<rect x="406" y="414" width="2" height="1" fill="#000" />
<rect x="409" y="414" width="2" height="1" fill="#000" />
<rect x="412" y="414" width="2" height="1" fill="#000" />
<rect x="415" y="414" width="2" height="1" fill="#000" />
<rect x="418" y="414" width="2" height="1" fill="#000" />
<rect x="421" y="414" width="2" height="1" fill="#000" />
<rect x="424" y="414" width="2" height="1" fill="#000" />
<rect x="427" y="414" width="2" height="1" fill="#000" />
<rect x="430" y="414" width="2" height="1" fill="#000" />
<rect x="433" y="414" width="2" height="1" fill="#000" />
<rect x="436" y="414" width="2" height="1" fill="#000" />
<rect x="439" y="414" width="2" height="1" fill="#000" />
<rect x="442" y="414" width="2" height="1" fill="#000" />
<rect x="445" y="414" width="2" height="1" fill="#000" />
<rect x="448" y="414" width="2" height="1" fill="#000" />
<rect x="451" y="414" width="2" height="1" fill="#000" />
<rect x="454" y="414" width="2" height="1" fill="#000" />
<rect x="457" y="414" width="2" height="1" fill="#000" />
<rect x="460" y="414" width="2" height="1" fill="#000" />
<rect x="463" y="414" width="2" height="1" fill="#000" />
<rect x="466" y="414" width="2" height="1" fill="#000" />
<rect x="469" y="414" width="2" height="1" fill="#000" />
<rect x="472" y="414" width="2" height="1" fill="#000" />
<rect x="475" y="414" width="2" height="1" fill="#000" />
<rect x="478" y="414" width="2" height="1" fill="#000" />
<rect x="481" y="414" width="2" height="1" fill="#000" />
<rect x="484" y="414" width="2" height="1" fill="#000" />
<rect x="487" y="414" width="2" height="1" fill="#000" />
<rect x="490" y="414" width="2" height="1" fill="#000" />
<rect x="493" y="414" width="2" height="1" fill="#000" />
<rect x="496" y="414" width="2" height="1" fill="#000" />
<rect x="499" y="414" width="2" height="1" fill="#000" />
<rect x="502" y="414" width="2" height="1" fill="#000" />
<rect x="505" y="414" width="2" height="1" fill="#000" />
<rect x="508" y="414" width="2" height="1" fill="#000" />
<rect x="511" y="414" width="2" height="1" fill="#000" />
<rect x="514" y="414" width="2" height="1" fill="#000" />
<rect x="517" y="414" width="2" height="1" fill="#000" />
<rect x="520" y="414" width="2" height="1" fill="#000" />
<rect x="523" y="414" width="2" height="1" fill="#000" />
<rect x="526" y="414" width="2" height="1" fill="#000" />
<rect x="529" y="414" width="2" height="1" fill="#000" />
<rect x="532" y="414" width="2" height="1" fill="#000" />
<rect x="535" y="414" width="2" height="1" fill="#000" />
<rect x="538" y="414" width="2" height="1" fill="#000" />
<rect x="541" y="414" width="2" height="1" fill="#000" />
<rect x="544" y="414" width="2" height="1" fill="#000" />
<rect x="547" y="414" width="2" height="1" fill="#000" />
<rect x="550" y="414" width="2" height="1" fill="#000" />
<rect x="553" y="414" width="2" height="1" fill="#000" />
<rect x="556" y="414" width="2" height="1" fill="#000" />
<rect x="559" y="414" width="2" height="1" fill="#000" />
<rect x="562" y="414" width="2" height="1" fill="#000" />
<rect x="565" y="414" width="2" height="1" fill="#000" />
<rect x="568" y="414" width="2" height="1" fill="#000" />
<rect x="571" y="414" width="2" height="1" fill="#000" />
<rect x="374" y="418" width="226" height="19" fill="#000" />
<rect x="375" y="419" width="224" height="17" fill="#fff" />
<rect x="375" y="425" width="6" height="1" fill="#000" />
<rect x="375" y="432" width="6" height="1" fill="#000" />
<rect x="381" y="418" width="4" height="17" fill="#000" />
<rect x="385" y="423" width="1" height="11" fill="#000" />
<rect x="382" y="433" width="1" height="1" fill="#fff" />
<rect x="385" y="419" width="8" height="1" fill="#000" />
<rect x="392" y="419" width="1" height="8" fill="#000" />
<rect x="386" y="423" width="2" height="2" fill="#000" />
<rect x="387" y="424" width="1" height="3" fill="#000" />
<rect x="387" y="426" width="6" height="1" fill="#000" />
<rect x="394" y="424" width="1" height="10" fill="#000" />
<rect x="392" y="424" width="3" height="1" fill="#000" />
<rect x="385" y="433" width="10" height="1" fill="#000" />
<rect x="592" y="425" width="7" height="1" fill="#000" />
<rect x="592" y="432" width="7" height="1" fill="#000" />
<rect x="588" y="418" width="4" height="17" fill="#000" />
<rect x="581" y="419" width="7" height="1" fill="#000" />
<rect x="581" y="419" width="1" height="8" fill="#000" />
<rect x="585" y="423" width="3" height="1" fill="#000" />
<rect x="585" y="423" width="1" height="4" fill="#000" />
<rect x="581" y="426" width="5" height="1" fill="#000" />
<rect x="578" y="424" width="1" height="10" fill="#000" />
<rect x="578" y="424" width="4" height="1" fill="#000" />
<rect x="578" y="433" width="10" height="1" fill="#000" />
<rect x="381" y="418" width="1" height="19" fill="#000" />
<rect x="591" y="418" width="1" height="19" fill="#000" />
<rect x="400" y="421" width="174" height="5" fill="#000" />
<rect x="399" y="426" width="175" height="8" fill="#000" />
<rect x="402" y="427" width="4" height="6" fill="#fff" />
<rect x="404" y="422" width="1" height="4" fill="#fff" />
<rect x="408" y="427" width="4" height="6" fill="#fff" />
<rect x="409" y="422" width="2" height="4" fill="#fff" />
<rect x="414" y="427" width="4" height="6" fill="#fff" />
<rect x="415" y="422" width="2" height="4" fill="#fff" />
<rect x="420" y="427" width="4" height="6" fill="#fff" />
<rect x="422" y="422" width="1" height="4" fill="#fff" />
<rect x="426" y="427" width="4" height="6" fill="#fff" />
<rect x="428" y="422" width="1" height="5" fill="#fff" />
<rect x="432" y="427" width="4" height="6" fill="#fff" />
<rect x="433" y="422" width="2" height="4" fill="#fff" />
<rect x="437" y="427" width="4" height="6" fill="#fff" />
<rect x="439" y="422" width="1" height="4" fill="#fff" />
<rect x="443" y="427" width="4" height="6" fill="#fff" />
<rect x="444" y="422" width="2" height="4" fill="#fff" />
<rect x="449" y="427" width="4" height="6" fill="#fff" />
<rect x="450" y="422" width="2" height="4" fill="#fff" />
<rect x="455" y="427" width="4" height="6" fill="#fff" />
<rect x="457" y="422" width="1" height="5" fill="#fff" />
<rect x="461" y="427" width="4" height="6" fill="#fff" />
<rect x="462" y="422" width="2" height="4" fill="#fff" />
<rect x="467" y="427" width="4" height="6" fill="#fff" />
<rect x="468" y="422" width="2" height="4" fill="#fff" />
<rect x="473" y="427" width="4" height="6" fill="#fff" />
<rect x="475" y="422" width="1" height="4" fill="#fff" />
<rect x="479" y="427" width="4" height="6" fill="#fff" />
<rect x="480" y="422" width="2" height="4" fill="#fff" />
<rect x="485" y="427" width="4" height="6" fill="#fff" />
<rect x="487" y="422" width="1" height="5" fill="#fff" />
<rect x="490" y="427" width="4" height="6" fill="#fff" />
<rect x="492" y="422" width="1" height="4" fill="#fff" />
<rect x="496" y="427" width="4" height="6" fill="#fff" />
<rect x="497" y="422" width="2" height="4" fill="#fff" />
<rect x="502" y="427" width="4" height="6" fill="#fff" />
<rect x="503" y="422" width="2" height="4" fill="#fff" />
<rect x="508" y="427" width="4" height="6" fill="#fff" />
<rect x="510" y="422" width="1" height="4" fill="#fff" />
<rect x="514" y="427" width="4" height="6" fill="#fff" />
<rect x="516" y="422" width="1" height="5" fill="#fff" />
<rect x="520" y="427" width="4" height="6" fill="#fff" />
<rect x="521" y="422" width="2" height="4" fill="#fff" />
<rect x="526" y="427" width="4" height="6" fill="#fff" />
<rect x="528" y="422" width="1" height="4" fill="#fff" />
<rect x="532" y="427" width="4" height="6" fill="#fff" />
<rect x="533" y="422" width="2" height="4" fill="#fff" />
<rect x="538" y="427" width="4" height="6" fill="#fff" />
<rect x="539" y="422" width="2" height="4" fill="#fff" />
<rect x="544" y="427" width="4" height="6" fill="#fff" />
<rect x="546" y="422" width="1" height="5" fill="#fff" />
<rect x="550" y="427" width="4" height="6" fill="#fff" />
<rect x="551" y="422" width="2" height="4" fill="#fff" />
<rect x="555" y="427" width="4" height="6" fill="#fff" />
<rect x="556" y="422" width="2" height="4" fill="#fff" />
<rect x="561" y="427" width="4" height="6" fill="#fff" />
<rect x="563" y="422" width="1" height="4" fill="#fff" />
<rect x="567" y="427" width="4" height="6" fill="#fff" />
<rect x="568" y="422" width="2" height="4" fill="#fff" />
<rect x="399" y="434" width="175" height="1" fill="#fff" />
<rect x="400" y="434" width="2" height="1" fill="#000" />
<rect x="403" y="434" width="2" height="1" fill="#000" />
<rect x="406" y="434" width="2" height="1" fill="#000" />
<rect x="409" y="434" width="2" height="1" fill="#000" />
<rect x="412" y="434" width="2" height="1" fill="#000" />
<rect x="415" y="434" width="2" height="1" fill="#000" />
<rect x="418" y="434" width="2" height="1" fill="#000" />
<rect x="421" y="434" width="2" height="1" fill="#000" />
<rect x="424" y="434" width="2" height="1" fill="#000" />
<rect x="427" y="434" width="2" height="1" fill="#000" />
<rect x="430" y="434" width="2" height="1" fill="#000" />
<rect x="433" y="434" width="2" height="1" fill="#000" />
<rect x="436" y="434" width="2" height="1" fill="#000" />
<rect x="439" y="434" width="2" height="1" fill="#000" />
<rect x="442" y="434" width="2" height="1" fill="#000" />
<rect x="445" y="434" width="2" height="1" fill="#000" />
<rect x="448" y="434" width="2" height="1" fill="#000" />
<rect x="451" y="434" width="2" height="1" fill="#000" />
<rect x="454" y="434" width="2" height="1" fill="#000" />
<rect x="457" y="434" width="2" height="1" fill="#000" />
<rect x="460" y="434" width="2" height="1" fill="#000" />
<rect x="463" y="434" width="2" height="1" fill="#000" />
<rect x="466" y="434" width="2" height="1" fill="#000" />
<rect x="469" y="434" width="2" height="1" fill="#000" />
<rect x="472" y="434" width="2" height="1" fill="#000" />
<rect x="475" y="434" width="2" height="1" fill="#000" />
<rect x="478" y="434" width="2" height="1" fill="#000" />
<rect x="481" y="434" width="2" height="1" fill="#000" />
<rect x="484" y="434" width="2" height="1" fill="#000" />
<rect x="487" y="434" width="2" height="1" fill="#000" />
<rect x="490" y="434" width="2" height="1" fill="#000" />
<rect x="493" y="434" width="2" height="1" fill="#000" />
<rect x="496" y="434" width="2" height="1" fill="#000" />
<rect x="499" y="434" width="2" height="1" fill="#000" />
<rect x="502" y="434" width="2" height="1" fill="#000" />
<rect x="505" y="434" width="2" height="1" fill="#000" />
<rect x="508" y="434" width="2" height="1" fill="#000" />
<rect x="511" y="434" width="2" height="1" fill="#000" />
<rect x="514" y="434" width="2" height="1" fill="#000" />
<rect x="517" y="434" width="2" height="1" fill="#000" />
<rect x="520" y="434" width="2" height="1" fill="#000" />
<rect x="523" y="434" width="2" height="1" fill="#000" />
<rect x="526" y="434" width="2" height="1" fill="#000" />
<rect x="529" y="434" width="2" height="1" fill="#000" />
<rect x="532" y="434" width="2" height="1" fill="#000" />
<rect x="535" y="434" width="2" height="1" fill="#000" />
<rect x="538" y="434" width="2" height="1" fill="#000" />
<rect x="541" y="434" width="2" height="1" fill="#000" />
<rect x="544" y="434" width="2" height="1" fill="#000" />
<rect x="547" y="434" width="2" height="1" fill="#000" />
<rect x="550" y="434" width="2" height="1" fill="#000" />
<rect x="553" y="434" width="2" height="1" fill="#000" />
<rect x="556" y="434" width="2" height="1" fill="#000" />
<rect x="559" y="434" width="2" height="1" fill="#000" />
<rect x="562" y="434" width="2" height="1" fill="#000" />
<rect x="565" y="434" width="2" height="1" fill="#000" />
<rect x="568" y="434" width="2" height="1" fill="#000" />
<rect x="571" y="434" width="2" height="1" fill="#000" />
<rect x="374" y="438" width="226" height="19" fill="#000" />
<rect x="375" y="439" width="224" height="17" fill="#fff" />
<rect x="375" y="445" width="6" height="1" fill="#000" />
<rect x="375" y="452" width="6" height="1" fill="#000" />
<rect x="381" y="438" width="4" height="17" fill="#000" />
<rect x="385" y="443" width="1" height="11" fill="#000" />
<rect x="382" y="453" width="1" height="1" fill="#fff" />
<rect x="385" y="439" width="8" height="1" fill="#000" />
<rect x="392" y="439" width="1" height="8" fill="#000" />
<rect x="386" y="443" width="2" height="2" fill="#000" />
<rect x="387" y="444" width="1" height="3" fill="#000" />
<rect x="387" y="446" width="6" height="1" fill="#000" />
<rect x="394" y="444" width="1" height="10" fill="#000" />
<rect x="392" y="444" width="3" height="1" fill="#000" />
<rect x="385" y="453" width="10" height="1" fill="#000" />
<rect x="592" y="445" width="7" height="1" fill="#000" />
<rect x="592" y="452" width="7" height="1" fill="#000" />
<rect x="588" y="438" width="4" height="17" fill="#000" />
<rect x="581" y="439" width="7" height="1" fill="#000" />
<rect x="581" y="439" width="1" height="8" fill="#000" />
<rect x="585" y="443" width="3" height="1" fill="#000" />
<rect x="585" y="443" width="1" height="4" fill="#000" />
<rect x="581" y="446" width="5" height="1" fill="#000" />
<rect x="578" y="444" width="1" height="10" fill="#000" />
<rect x="578" y="444" width="4" height="1" fill="#000" />
<rect x="578" y="453" width="10" height="1" fill="#000" />
<rect x="381" y="438" width="1" height="19" fill="#000" />
<rect x="591" y="438" width="1" height="19" fill="#000" />
<rect x="400" y="441" width="174" height="5" fill="#000" />
<rect x="399" y="446" width="175" height="8" fill="#000" />
<rect x="402" y="447" width="4" height="6" fill="#fff" />
<rect x="404" y="442" width="1" height="4" fill="#fff" />
<rect x="408" y="447" width="4" height="6" fill="#fff" />
<rect x="409" y="442" width="2" height="4" fill="#fff" />
<rect x="414" y="447" width="4" height="6" fill="#fff" />
<rect x="415" y="442" width="2" height="4" fill="#fff" />
<rect x="420" y="447" width="4" height="6" fill="#fff" />
<rect x="422" y="442" width="1" height="4" fill="#fff" />
<rect x="426" y="447" width="4" height="6" fill="#fff" />
<rect x="428" y="442" width="1" height="5" fill="#fff" />
<rect x="432" y="447" width="4" height="6" fill="#fff" />
<rect x="433" y="442" width="2" height="4" fill="#fff" />
<rect x="437" y="447" width="4" height="6" fill="#fff" />
<rect x="439" y="442" width="1" height="4" fill="#fff" />
<rect x="443" y="447" width="4" height="6" fill="#fff" />
<rect x="444" y="442" width="2" height="4" fill="#fff" />
<rect x="449" y="447" width="4" height="6" fill="#fff" />
<rect x="450" y="442" width="2" height="4" fill="#fff" />
<rect x="455" y="447" width="4" height="6" fill="#fff" />
<rect x="457" y="442" width="1" height="5" fill="#fff" />
<rect x="461" y="447" width="4" height="6" fill="#fff" />
<rect x="462" y="442" width="2" height="4" fill="#fff" />
<rect x="467" y="447" width="4" height="6" fill="#fff" />
<rect x="468" y="442" width="2" height="4" fill="#fff" />
<rect x="473" y="447" width="4" height="6" fill="#fff" />
<rect x="475" y="442" width="1" height="4" fill="#fff" />
<rect x="479" y="447" width="4" height="6" fill="#fff" />
<rect x="480" y="442" width="2" height="4" fill="#fff" />
<rect x="485" y="447" width="4" height="6" fill="#fff" />
<rect x="487" y="442" width="1" height="5" fill="#fff" />
<rect x="490" y="447" width="4" height="6" fill="#fff" />
<rect x="492" y="442" width="1" height="4" fill="#fff" />
<rect x="496" y="447" width="4" height="6" fill="#fff" />
<rect x="497" y="442" width="2" height="4" fill="#fff" />
<rect x="502" y="447" width="4" height="6" fill="#fff" />
<rect x="503" y="442" width="2" height="4" fill="#fff" />
<rect x="508" y="447" width="4" height="6" fill="#fff" />
<rect x="510" y="442" width="1" height="4" fill="#fff" />
<rect x="514" y="447" width="4" height="6" fill="#fff" />
<rect x="516" y="442" width="1" height="5" fill="#fff" />
<rect x="520" y="447" width="4" height="6" fill="#fff" />
<rect x="521" y="442" width="2" height="4" fill="#fff" />
<rect x="526" y="447" width="4" height="6" fill="#fff" />
<rect x="528" y="442" width="1" height="4" fill="#fff" />
<rect x="532" y="447" width="4" height="6" fill="#fff" />
<rect x="533" y="442" width="2" height="4" fill="#fff" />
<rect x="538" y="447" width="4" height="6" fill="#fff" />
<rect x="539" y="442" width="2" height="4" fill="#fff" />
<rect x="544" y="447" width="4" height="6" fill="#fff" />
<rect x="546" y="442" width="1" height="5" fill="#fff" />
<rect x="550" y="447" width="4" height="6" fill="#fff" />
<rect x="551" y="442" width="2" height="4" fill="#fff" />
<rect x="555" y="447" width="4" height="6" fill="#fff" />
<rect x="556" y="442" width="2" height="4" fill="#fff" />
<rect x="561" y="447" width="4" height="6" fill="#fff" />
<rect x="563" y="442" width="1" height="4" fill="#fff" />
<rect x="567" y="447" width="4" height="6" fill="#fff" />
<rect x="568" y="442" width="2" height="4" fill="#fff" />
<rect x="399" y="454" width="175" height="1" fill="#fff" />
<rect x="400" y="454" width="2" height="1" fill="#000" />
<rect x="403" y="454" width="2" height="1" fill="#000" />
<rect x="406" y="454" width="2" height="1" fill="#000" />
<rect x="409" y="454" width="2" height="1" fill="#000" />
<rect x="412" y="454" width="2" height="1" fill="#000" />
<rect x="415" y="454" width="2" height="1" fill="#000" />
<rect x="418" y="454" width="2" height="1" fill="#000" />
<rect x="421" y="454" width="2" height="1" fill="#000" />
<rect x="424" y="454" width="2" height="1" fill="#000" />
<rect x="427" y="454" width="2" height="1" fill="#000" />
<rect x="430" y="454" width="2" height="1" fill="#000" />
<rect x="433" y="454" width="2" height="1" fill="#000" />
<rect x="436" y="454" width="2" height="1" fill="#000" />
<rect x="439" y="454" width="2" height="1" fill="#000" />
<rect x="442" y="454" width="2" height="1" fill="#000" />
<rect x="445" y="454" width="2" height="1" fill="#000" />
<rect x="448" y="454" width="2" height="1" fill="#000" />
<rect x="451" y="454" width="2" height="1" fill="#000" />
<rect x="454" y="454" width="2" height="1" fill="#000" />
<rect x="457" y="454" width="2" height="1" fill="#000" />
<rect x="460" y="454" width="2" height="1" fill="#000" />
<rect x="463" y="454" width="2" height="1" fill="#000" />
<rect x="466" y="454" width="2" height="1" fill="#000" />
<rect x="469" y="454" width="2" height="1" fill="#000" />
<rect x="472" y="454" width="2" height="1" fill="#000" />
<rect x="475" y="454" width="2" height="1" fill="#000" />
<rect x="478" y="454" width="2" height="1" fill="#000" />
<rect x="481" y="454" width="2" height="1" fill="#000" />
<rect x="484" y="454" width="2" height="1" fill="#000" />
<rect x="487" y="454" width="2" height="1" fill="#000" />
<rect x="490" y="454" width="2" height="1" fill="#000" />
<rect x="493" y="454" width="2" height="1" fill="#000" />
<rect x="496" y="454" width="2" height="1" fill="#000" />
<rect x="499" y="454" width="2" height="1" fill="#000" />
<rect x="502" y="454" width="2" height="1" fill="#000" />
<rect x="505" y="454" width="2" height="1" fill="#000" />
<rect x="508" y="454" width="2" height="1" fill="#000" />
<rect x="511" y="454" width="2" height="1" fill="#000" />
<rect x="514" y="454" width="2" height="1" fill="#000" />
<rect x="517" y="454" width="2" height="1" fill="#000" />
<rect x="520" y="454" width="2" height="1" fill="#000" />
<rect x="523" y="454" width="2" height="1" fill="#000" />
<rect x="526" y="454" width="2" height="1" fill="#000" />
<rect x="529" y="454" width="2" height="1" fill="#000" />
<rect x="532" y="454" width="2" height="1" fill="#000" />
<rect x="535" y="454" width="2" height="1" fill="#000" />
<rect x="538" y="454" width="2" height="1" fill="#000" />
<rect x="541" y="454" width="2" height="1" fill="#000" />
<rect x="544" y="454" width="2" height="1" fill="#000" />
<rect x="547" y="454" width="2" height="1" fill="#000" />
<rect x="550" y="454" width="2" height="1" fill="#000" />
<rect x="553" y="454" width="2" height="1" fill="#000" />
<rect x="556" y="454" width="2" height="1" fill="#000" />
<rect x="559" y="454" width="2" height="1" fill="#000" />
<rect x="562" y="454" width="2" height="1" fill="#000" />
<rect x="565" y="454" width="2" height="1" fill="#000" />
<rect x="568" y="454" width="2" height="1" fill="#000" />
<rect x="571" y="454" width="2" height="1" fill="#000" />
<rect x="374" y="458" width="226" height="19" fill="#000" />
<rect x="375" y="459" width="224" height="17" fill="#fff" />
<rect x="375" y="465" width="6" height="1" fill="#000" />
<rect x="375" y="472" width="6" height="1" fill="#000" />
<rect x="381" y="458" width="4" height="17" fill="#000" />
<rect x="385" y="463" width="1" height="11" fill="#000" />
<rect x="382" y="473" width="1" height="1" fill="#fff" />
<rect x="385" y="459" width="8" height="1" fill="#000" />
<rect x="392" y="459" width="1" height="8" fill="#000" />
<rect x="386" y="463" width="2" height="2" fill="#000" />
<rect x="387" y="464" width="1" height="3" fill="#000" />
<rect x="387" y="466" width="6" height="1" fill="#000" />
<rect x="394" y="464" width="1" height="10" fill="#000" />
<rect x="392" y="464" width="3" height="1" fill="#000" />
<rect x="385" y="473" width="10" height="1" fill="#000" />
<rect x="592" y="465" width="7" height="1" fill="#000" />
<rect x="592" y="472" width="7" height="1" fill="#000" />
<rect x="588" y="458" width="4" height="17" fill="#000" />
<rect x="581" y="459" width="7" height="1" fill="#000" />
<rect x="581" y="459" width="1" height="8" fill="#000" />
<rect x="585" y="463" width="3" height="1" fill="#000" />
<rect x="585" y="463" width="1" height="4" fill="#000" />
<rect x="581" y="466" width="5" height="1" fill="#000" />
<rect x="578" y="464" width="1" height="10" fill="#000" />
<rect x="578" y="464" width="4" height="1" fill="#000" />
<rect x="578" y="473" width="10" height="1" fill="#000" />
<rect x="381" y="458" width="1" height="19" fill="#000" />
<rect x="591" y="458" width="1" height="19" fill="#000" />
<rect x="400" y="461" width="174" height="5" fill="#000" />
<rect x="399" y="466" width="175" height="8" fill="#000" />
<rect x="402" y="467" width="4" height="6" fill="#fff" />
<rect x="404" y="462" width="1" height="4" fill="#fff" />
<rect x="408" y="467" width="4" height="6" fill="#fff" />
<rect x="409" y="462" width="2" height="4" fill="#fff" />
<rect x="414" y="467" width="4" height="6" fill="#fff" />
<rect x="415" y="462" width="2" height="4" fill="#fff" />
<rect x="420" y="467" width="4" height="6" fill="#fff" />
<rect x="422" y="462" width="1" height="4" fill="#fff" />
<rect x="426" y="467" width="4" height="6" fill="#fff" />
<rect x="428" y="462" width="1" height="5" fill="#fff" />
<rect x="432" y="467" width="4" height="6" fill="#fff" />
<rect x="433" y="462" width="2" height="4" fill="#fff" />
<rect x="437" y="467" width="4" height="6" fill="#fff" />
<rect x="439" y="462" width="1" height="4" fill="#fff" />
<rect x="443" y="467" width="4" height="6" fill="#fff" />
<rect x="444" y="462" width="2" height="4" fill="#fff" />
<rect x="449" y="467" width="4" height="6" fill="#fff" />
<rect x="450" y="462" width="2" height="4" fill="#fff" />
<rect x="455" y="467" width="4" height="6" fill="#fff" />
<rect x="457" y="462" width="1" height="5" fill="#fff" />
<rect x="461" y="467" width="4" height="6" fill="#fff" />
<rect x="462" y="462" width="2" height="4" fill="#fff" />
<rect x="467" y="467" width="4" height="6" fill="#fff" />
<rect x="468" y="462" width="2" height="4" fill="#fff" />
<rect x="473" y="467" width="4" height="6" fill="#fff" />
<rect x="475" y="462" width="1" height="4" fill="#fff" />
<rect x="479" y="467" width="4" height="6" fill="#fff" />
<rect x="480" y="462" width="2" height="4" fill="#fff" />
<rect x="485" y="467" width="4" height="6" fill="#fff" />
<rect x="487" y="462" width="1" height="5" fill="#fff" />
<rect x="490" y="467" width="4" height="6" fill="#fff" />
<rect x="492" y="462" width="1" height="4" fill="#fff" />
<rect x="496" y="467" width="4" height="6" fill="#fff" />
<rect x="497" y="462" width="2" height="4" fill="#fff" />
<rect x="502" y="467" width="4" height="6" fill="#fff" />
<rect x="503" y="462" width="2" height="4" fill="#fff" />
<rect x="508" y="467" width="4" height="6" fill="#fff" />
<rect x="510" y="462" width="1" height="4" fill="#fff" />
<rect x="514" y="467" width="4" height="6" fill="#fff" />
<rect x="516" y="462" width="1" height="5" fill="#fff" />
<rect x="520" y="467" width="4" height="6" fill="#fff" />
<rect x="521" y="462" width="2" height="4" fill="#fff" />
<rect x="526" y="467" width="4" height="6" fill="#fff" />
<rect x="528" y="462" width="1" height="4" fill="#fff" />
<rect x="532" y="467" width="4" height="6" fill="#fff" />
<rect x="533" y="462" width="2" height="4" fill="#fff" />
<rect x="538" y="467" width="4" height="6" fill="#fff" />
<rect x="539" y="462" width="2" height="4" fill="#fff" />
<rect x="544" y="467" width="4" height="6" fill="#fff" />
<rect x="546" y="462" width="1" height="5" fill="#fff" />
<rect x="550" y="467" width="4" height="6" fill="#fff" />
<rect x="551" y="462" width="2" height="4" fill="#fff" />
<rect x="555" y="467" width="4" height="6" fill="#fff" />
<rect x="556" y="462" width="2" height="4" fill="#fff" />
<rect x="561" y="467" width="4" height="6" fill="#fff" />
<rect x="563" y="462" width="1" height="4" fill="#fff" />
<rect x="567" y="467" width="4" height="6" fill="#fff" />
<rect x="568" y="462" width="2" height="4" fill="#fff" />
<rect x="399" y="474" width="175" height="1" fill="#fff" />
<rect x="400" y="474" width="2" height="1" fill="#000" />
<rect x="403" y="474" width="2" height="1" fill="#000" />
<rect x="406" y="474" width="2" height="1" fill="#000" />
<rect x="409" y="474" width="2" height="1" fill="#000" />
<rect x="412" y="474" width="2" height="1" fill="#000" />
<rect x="415" y="474" width="2" height="1" fill="#000" />
<rect x="418" y="474" width="2" height="1" fill="#000" />
<rect x="421" y="474" width="2" height="1" fill="#000" />
<rect x="424" y="474" width="2" height="1" fill="#000" />
<rect x="427" y="474" width="2" height="1" fill="#000" />
<rect x="430" y="474" width="2" height="1" fill="#000" />
<rect x="433" y="474" width="2" height="1" fill="#000" />
<rect x="436" y="474" width="2" height="1" fill="#000" />
<rect x="439" y="474" width="2" height="1" fill="#000" />
<rect x="442" y="474" width="2" height="1" fill="#000" />
<rect x="445" y="474" width="2" height="1" fill="#000" />
<rect x="448" y="474" width="2" height="1" fill="#000" />
<rect x="451" y="474" width="2" height="1" fill="#000" />
<rect x="454" y="474" width="2" height="1" fill="#000" />
<rect x="457" y="474" width="2" height="1" fill="#000" />
<rect x="460" y="474" width="2" height="1" fill="#000" />
<rect x="463" y="474" width="2" height="1" fill="#000" />
<rect x="466" y="474" width="2" height="1" fill="#000" />
<rect x="469" y="474" width="2" height="1" fill="#000" />
<rect x="472" y="474" width="2" height="1" fill="#000" />
<rect x="475" y="474" width="2" height="1" fill="#000" />
<rect x="478" y="474" width="2" height="1" fill="#000" />
<rect x="481" y="474" width="2" height="1" fill="#000" />
<rect x="484" y="474" width="2" height="1" fill="#000" />
<rect x="487" y="474" width="2" height="1" fill="#000" />
<rect x="490" y="474" width="2" height="1" fill="#000" />
<rect x="493" y="474" width="2" height="1" fill="#000" />
<rect x="496" y="474" width="2" height="1" fill="#000" />
<rect x="499" y="474" width="2" height="1" fill="#000" />
<rect x="502" y="474" width="2" height="1" fill="#000" />
<rect x="505" y="474" width="2" height="1" fill="#000" />
<rect x="508" y="474" width="2" height="1" fill="#000" />
<rect x="511" y="474" width="2" height="1" fill="#000" />
<rect x="514" y="474" width="2" height="1" fill="#000" />
<rect x="517" y="474" width="2" height="1" fill="#000" />
<rect x="520" y="474" width="2" height="1" fill="#000" />
<rect x="523" y="474" width="2" height="1" fill="#000" />
<rect x="526" y="474" width="2" height="1" fill="#000" />
<rect x="529" y="474" width="2" height="1" fill="#000" />
<rect x="532" y="474" width="2" height="1" fill="#000" />
<rect x="535" y="474" width="2" height="1" fill="#000" />
<rect x="538" y="474" width="2" height="1" fill="#000" />
<rect x="541" y="474" width="2" height="1" fill="#000" />
<rect x="544" y="474" width="2" height="1" fill="#000" />
<rect x="547" y="474" width="2" height="1" fill="#000" />
<rect x="550" y="474" width="2" height="1" fill="#000" />
<rect x="553" y="474" width="2" height="1" fill="#000" />
<rect x="556" y="474" width="2" height="1" fill="#000" />
<rect x="559" y="474" width="2" height="1" fill="#000" />
<rect x="562" y="474" width="2" height="1" fill="#000" />
<rect x="565" y="474" width="2" height="1" fill="#000" />
<rect x="568" y="474" width="2" height="1" fill="#000" />
<rect x="571" y="474" width="2" height="1" fill="#000" />
<rect x="374" y="478" width="226" height="19" fill="#000" />
<rect x="375" y="479" width="224" height="17" fill="#fff" />
<rect x="375" y="485" width="6" height="1" fill="#000" />
<rect x="375" y="492" width="6" height="1" fill="#000" />
<rect x="381" y="478" width="4" height="17" fill="#000" />
<rect x="385" y="483" width="1" height="11" fill="#000" />
<rect x="382" y="493" width="1" height="1" fill="#fff" />
<rect x="385" y="479" width="8" height="1" fill="#000" />
<rect x="392" y="479" width="1" height="8" fill="#000" />
<rect x="386" y="483" width="2" height="2" fill="#000" />
<rect x="387" y="484" width="1" height="3" fill="#000" />
<rect x="387" y="486" width="6" height="1" fill="#000" />
<rect x="394" y="484" width="1" height="10" fill="#000" />
<rect x="392" y="484" width="3" height="1" fill="#000" />
<rect x="385" y="493" width="10" height="1" fill="#000" />
<rect x="592" y="485" width="7" height="1" fill="#000" />
<rect x="592" y="492" width="7" height="1" fill="#000" />
<rect x="588" y="478" width="4" height="17" fill="#000" />
<rect x="581" y="479" width="7" height="1" fill="#000" />
<rect x="581" y="479" width="1" height="8" fill="#000" />
<rect x="585" y="483" width="3" height="1" fill="#000" />
<rect x="585" y="483" width="1" height="4" fill="#000" />
<rect x="581" y="486" width="5" height="1" fill="#000" />
<rect x="578" y="484" width="1" height="10" fill="#000" />
<rect x="578" y="484" width="4" height="1" fill="#000" />
<rect x="578" y="493" width="10" height="1" fill="#000" />
<rect x="381" y="478" width="1" height="19" fill="#000" />
<rect x="591" y="478" width="1" height="19" fill="#000" />
<rect x="400" y="481" width="174" height="5" fill="#000" />
<rect x="399" y="486" width="175" height="8" fill="#000" />
<rect x="402" y="487" width="4" height="6" fill="#fff" />
<rect x="404" y="482" width="1" height="4" fill="#fff" />
<rect x="408" y="487" width="4" height="6" fill="#fff" />
<rect x="409" y="482" width="2" height="4" fill="#fff" />
<rect x="414" y="487" width="4" height="6" fill="#fff" />
<rect x="415" y="482" width="2" height="4" fill="#fff" />
<rect x="420" y="487" width="4" height="6" fill="#fff" />
<rect x="422" y="482" width="1" height="4" fill="#fff" />
<rect x="426" y="487" width="4" height="6" fill="#fff" />
<rect x="428" y="482" width="1" height="5" fill="#fff" />
<rect x="432" y="487" width="4" height="6" fill="#fff" />
<rect x="433" y="482" width="2" height="4" fill="#fff" />
<rect x="437" y="487" width="4" height="6" fill="#fff" />
<rect x="439" y="482" width="1" height="4" fill="#fff" />
<rect x="443" y="487" width="4" height="6" fill="#fff" />
<rect x="444" y="482" width="2" height="4" fill="#fff" />
<rect x="449" y="487" width="4" height="6" fill="#fff" />
<rect x="450" y="482" width="2" height="4" fill="#fff" />
<rect x="455" y="487" width="4" height="6" fill="#fff" />
<rect x="457" y="482" width="1" height="5" fill="#fff" />
<rect x="461" y="487" width="4" height="6" fill="#fff" />
<rect x="462" y="482" width="2" height="4" fill="#fff" />
<rect x="467" y="487" width="4" height="6" fill="#fff" />
<rect x="468" y="482" width="2" height="4" fill="#fff" />
<rect x="473" y="487" width="4" height="6" fill="#fff" />
<rect x="475" y="482" width="1" height="4" fill="#fff" />
<rect x="479" y="487" width="4" height="6" fill="#fff" />
<rect x="480" y="482" width="2" height="4" fill="#fff" />
<rect x="485" y="487" width="4" height="6" fill="#fff" />
<rect x="487" y="482" width="1" height="5" fill="#fff" />
<rect x="490" y="487" width="4" height="6" fill="#fff" />
<rect x="492" y="482" width="1" height="4" fill="#fff" />
<rect x="496" y="487" width="4" height="6" fill="#fff" />
<rect x="497" y="482" width="2" height="4" fill="#fff" />
<rect x="502" y="487" width="4" height="6" fill="#fff" />
<rect x="503" y="482" width="2" height="4" fill="#fff" />
<rect x="508" y="487" width="4" height="6" fill="#fff" />
<rect x="510" y="482" width="1" height="4" fill="#fff" />
<rect x="514" y="487" width="4" height="6" fill="#fff" />
<rect x="516" y="482" width="1" height="5" fill="#fff" />
<rect x="520" y="487" width="4" height="6" fill="#fff" />
<rect x="521" y="482" width="2" height="4" fill="#fff" />
<rect x="526" y="487" width="4" height="6" fill="#fff" />
<rect x="528" y="482" width="1" height="4" fill="#fff" />
<rect x="532" y="487" width="4" height="6" fill="#fff" />
<rect x="533" y="482" width="2" height="4" fill="#fff" />
<rect x="538" y="487" width="4" height="6" fill="#fff" />
<rect x="539" y="482" width="2" height="4" fill="#fff" />
<rect x="544" y="487" width="4" height="6" fill="#fff" />
<rect x="546" y="482" width="1" height="5" fill="#fff" />
<rect x="550" y="487" width="4" height="6" fill="#fff" />
<rect x="551" y="482" width="2" height="4" fill="#fff" />
<rect x="555" y="487" width="4" height="6" fill="#fff" />
<rect x="556" y="482" width="2" height="4" fill="#fff" />
<rect x="561" y="487" width="4" height="6" fill="#fff" />
<rect x="563" y="482" width="1" height="4" fill="#fff" />
<rect x="567" y="487" width="4" height="6" fill="#fff" />
<rect x="568" y="482" width="2" height="4" fill="#fff" />
<rect x="399" y="494" width="175" height="1" fill="#fff" />
<rect x="400" y="494" width="2" height="1" fill="#000" />
<rect x="403" y="494" width="2" height="1" fill="#000" />
<rect x="406" y="494" width="2" height="1" fill="#000" />
<rect x="409" y="494" width="2" height="1" fill="#000" />
<rect x="412" y="494" width="2" height="1" fill="#000" />
<rect x="415" y="494" width="2" height="1" fill="#000" />
<rect x="418" y="494" width="2" height="1" fill="#000" />
<rect x="421" y="494" width="2" height="1" fill="#000" />
<rect x="424" y="494" width="2" height="1" fill="#000" />
<rect x="427" y="494" width="2" height="1" fill="#000" />
<rect x="430" y="494" width="2" height="1" fill="#000" />
<rect x="433" y="494" width="2" height="1" fill="#000" />
<rect x="436" y="494" width="2" height="1" fill="#000" />
<rect x="439" y="494" width="2" height="1" fill="#000" />
<rect x="442" y="494" width="2" height="1" fill="#000" />
<rect x="445" y="494" width="2" height="1" fill="#000" />
<rect x="448" y="494" width="2" height="1" fill="#000" />
<rect x="451" y="494" width="2" height="1" fill="#000" />
<rect x="454" y="494" width="2" height="1" fill="#000" />
<rect x="457" y="494" width="2" height="1" fill="#000" />
<rect x="460" y="494" width="2" height="1" fill="#000" />
<rect x="463" y="494" width="2" height="1" fill="#000" />
<rect x="466" y="494" width="2" height="1" fill="#000" />
<rect x="469" y="494" width="2" height="1" fill="#000" />
<rect x="472" y="494" width="2" height="1" fill="#000" />
<rect x="475" y="494" width="2" height="1" fill="#000" />
<rect x="478" y="494" width="2" height="1" fill="#000" />
<rect x="481" y="494" width="2" height="1" fill="#000" />
<rect x="484" y="494" width="2" height="1" fill="#000" />
<rect x="487" y="494" width="2" height="1" fill="#000" />
<rect x="490" y="494" width="2" height="1" fill="#000" />
<rect x="493" y="494" width="2" height="1" fill="#000" />
<rect x="496" y="494" width="2" height="1" fill="#000" />
<rect x="499" y="494" width="2" height="1" fill="#000" />
<rect x="502" y="494" width="2" height="1" fill="#000" />
<rect x="505" y="494" width="2" height="1" fill="#000" />
<rect x="508" y="494" width="2" height="1" fill="#000" />
<rect x="511" y="494" width="2" height="1" fill="#000" />
<rect x="514" y="494" width="2" height="1" fill="#000" />
<rect x="517" y="494" width="2" height="1" fill="#000" />
<rect x="520" y="494" width="2" height="1" fill="#000" />
<rect x="523" y="494" width="2" height="1" fill="#000" />
<rect x="526" y="494" width="2" height="1" fill="#000" />
<rect x="529" y="494" width="2" height="1" fill="#000" />
<rect x="532" y="494" width="2" height="1" fill="#000" />
<rect x="535" y="494" width="2" height="1" fill="#000" />
<rect x="538" y="494" width="2" height="1" fill="#000" />
<rect x="541" y="494" width="2" height="1" fill="#000" />
<rect x="544" y="494" width="2" height="1" fill="#000" />
<rect x="547" y="494" width="2" height="1" fill="#000" />
<rect x="550" y="494" width="2" height="1" fill="#000" />
<rect x="553" y="494" width="2" height="1" fill="#000" />
<rect x="556" y="494" width="2" height="1" fill="#000" />
<rect x="559" y="494" width="2" height="1" fill="#000" />
<rect x="562" y="494" width="2" height="1" fill="#000" />
<rect x="565" y="494" width="2" height="1" fill="#000" />
<rect x="568" y="494" width="2" height="1" fill="#000" />
<rect x="571" y="494" width="2" height="1" fill="#000" />
<rect x="457.3" y="368.5" width="59.7" height="16.8" rx="4" ry="4" fill="#000" class="aa"/>
<rect x="458.8" y="370.0" width="56.6" height="13.8" rx="2.5" ry="2.5" fill="#fff" class="aa"/>
<text transform="translate(462.84,381.00) scale(0.72,1)" font-size="14" textLength="66.44" lengthAdjust="spacing">BANK 0</text>
<rect x="457.3" y="447.5" width="59.7" height="16.8" rx="4" ry="4" fill="#000" class="aa"/>
<rect x="458.8" y="449.0" width="56.6" height="13.8" rx="2.5" ry="2.5" fill="#fff" class="aa"/>
<text transform="translate(462.66,460.00) scale(0.72,1)" font-size="14" textLength="66.19" lengthAdjust="spacing">BANK 1</text>
<polygon points="600.00,279.50 602.50,282.00 605.00,283.80 608.59,285.40 612.65,286.50 617.00,287.10 617.00,288.90 612.65,289.50 608.59,290.60 605.00,292.20 602.50,294.00 600.00,297.50" fill="#000" class="aa"/>
<rect x="567" y="279" width="36" height="19" rx="4.3" ry="4.3" fill="#000" class="aa"/>
<rect x="569" y="280.5" width="32" height="15.0" rx="2.8" ry="2.8" fill="#fff" class="aa"/>
<polygon points="599.50,284.80 603.00,285.20 605.00,286.00 607.72,287.50 608.59,288.00 607.72,288.50 605.00,290.00 603.00,290.80 599.50,291.20" fill="#fff" class="aa"/>
<text transform="translate(572.28,291.50) scale(0.72,1)" font-size="14" textLength="30.39" lengthAdjust="spacing">JP7</text>
<rect x="617" y="285" width="19" height="6" fill="#000" />
<rect x="618" y="286" width="1" height="4" fill="#fff" />
<rect x="620" y="287" width="3" height="2" fill="#fff" />
<rect x="624" y="286" width="1" height="4" fill="#fff" />
<rect x="629" y="286" width="2" height="4" fill="#fff" />
<line x1="627" y1="388" x2="627.15" y2="377.46" stroke="#000" stroke-width="3" class="aa"/>
<polygon points="623.5,371 627.15,377.46 631,371" fill="#fff" stroke="#000" stroke-width="1.8" stroke-linejoin="miter" class="aa"/>
<rect x="611" y="353" width="34" height="19" rx="4.3" ry="4.3" fill="#000" class="aa"/>
<rect x="613" y="354.5" width="30" height="14.5" rx="2.8" ry="2.8" fill="#fff" class="aa"/>
<polygon points="624.98,372.20 629.48,372.20 629.54,368.60 625.04,368.60" fill="#fff" class="aa"/>
<text transform="translate(615.56,365.00) scale(0.72,1)" font-size="14" textLength="31.86" lengthAdjust="spacing">JP8</text>
<rect x="615" y="387" width="25" height="7" fill="#000" />
<rect x="616" y="388" width="23" height="5" fill="#fff" />
<rect x="617" y="389" width="4" height="5" fill="#000" />
<rect x="623" y="389" width="4" height="5" fill="#000" />
<rect x="628" y="389" width="4" height="5" fill="#000" />
<rect x="634" y="389" width="4" height="5" fill="#000" />
<rect x="618" y="390" width="2" height="2" fill="#fff" />
<path d="M621,401.5 H638 Q642.5,401.5 642.5,406 Q641,411 642.5,416 Q644,421 642.5,426 Q641,431 642.5,437 Q642.5,442.5 638,442.5 H621 Q616,442.5 616,437 Q617.5,431 616,426 Q614.5,421 616,416 Q617.5,411 616,406 Q616,401.5 621,401.5 Z" fill="#fff" stroke="#000" stroke-width="1.1" class="aa"/>
<rect x="618" y="456" width="32" height="38" fill="#000" />
<rect x="642" y="452" width="8" height="46" fill="#000" />
<rect x="646" y="449" width="4" height="52" fill="#000" />
<rect x="616" y="463" width="2" height="25" fill="#000" />
<rect x="612" y="465" width="5" height="9" fill="#000" />
<rect x="613" y="466" width="3" height="7" fill="#fff" />
<rect x="612" y="476" width="5" height="9" fill="#000" />
<rect x="613" y="477" width="3" height="7" fill="#fff" />
<rect x="490" y="507" width="112" height="24" fill="#000" />
<rect x="491" y="508" width="110" height="22" fill="#fff" />
<rect x="493" y="517" width="7" height="3" fill="#000" />
<rect x="493" y="511" width="7" height="2" fill="#000" />
<rect x="495" y="509" width="3" height="2" fill="#000" />
<rect x="494" y="513" width="5" height="2" fill="#000" />
<rect x="502" y="517" width="7" height="3" fill="#000" />
<rect x="502" y="511" width="7" height="2" fill="#000" />
<rect x="504" y="509" width="3" height="2" fill="#000" />
<rect x="503" y="513" width="5" height="2" fill="#000" />
<rect x="511" y="517" width="7" height="3" fill="#000" />
<rect x="511" y="511" width="7" height="2" fill="#000" />
<rect x="513" y="509" width="3" height="2" fill="#000" />
<rect x="512" y="513" width="5" height="2" fill="#000" />
<rect x="520" y="517" width="7" height="3" fill="#000" />
<rect x="520" y="511" width="7" height="2" fill="#000" />
<rect x="522" y="509" width="3" height="2" fill="#000" />
<rect x="521" y="513" width="5" height="2" fill="#000" />
<rect x="530" y="517" width="7" height="3" fill="#000" />
<rect x="530" y="511" width="7" height="2" fill="#000" />
<rect x="532" y="509" width="3" height="2" fill="#000" />
<rect x="531" y="513" width="5" height="2" fill="#000" />
<rect x="539" y="517" width="7" height="3" fill="#000" />
<rect x="539" y="511" width="7" height="2" fill="#000" />
<rect x="541" y="509" width="3" height="2" fill="#000" />
<rect x="540" y="513" width="5" height="2" fill="#000" />
<rect x="548" y="517" width="7" height="3" fill="#000" />
<rect x="548" y="511" width="7" height="2" fill="#000" />
<rect x="550" y="509" width="3" height="2" fill="#000" />
<rect x="549" y="513" width="5" height="2" fill="#000" />
<rect x="557" y="517" width="7" height="3" fill="#000" />
<rect x="557" y="511" width="7" height="2" fill="#000" />
<rect x="559" y="509" width="3" height="2" fill="#000" />
<rect x="558" y="513" width="5" height="2" fill="#000" />
<rect x="566" y="517" width="7" height="3" fill="#000" />
<rect x="566" y="511" width="7" height="2" fill="#000" />
<rect x="568" y="509" width="3" height="2" fill="#000" />
<rect x="567" y="513" width="5" height="2" fill="#000" />
<rect x="575" y="517" width="7" height="3" fill="#000" />
<rect x="575" y="511" width="7" height="2" fill="#000" />
<rect x="577" y="509" width="3" height="2" fill="#000" />
<rect x="576" y="513" width="5" height="2" fill="#000" />
<rect x="584" y="517" width="7" height="3" fill="#000" />
<rect x="584" y="511" width="7" height="2" fill="#000" />
<rect x="586" y="509" width="3" height="2" fill="#000" />
<rect x="585" y="513" width="5" height="2" fill="#000" />
<rect x="594" y="517" width="7" height="3" fill="#000" />
<rect x="594" y="511" width="7" height="2" fill="#000" />
<rect x="596" y="509" width="3" height="2" fill="#000" />
<rect x="595" y="513" width="5" height="2" fill="#000" />
<rect x="496" y="521" width="7" height="7" fill="#000" />
<rect x="497" y="522" width="5" height="5" fill="#fff" />
<rect x="505" y="521" width="7" height="7" fill="#000" />
<rect x="506" y="522" width="5" height="5" fill="#fff" />
<rect x="515" y="521" width="7" height="7" fill="#000" />
<rect x="516" y="522" width="5" height="5" fill="#fff" />
<rect x="524" y="521" width="7" height="7" fill="#000" />
<rect x="525" y="522" width="5" height="5" fill="#fff" />
<rect x="533" y="521" width="7" height="7" fill="#000" />
<rect x="534" y="522" width="5" height="5" fill="#fff" />
<rect x="542" y="521" width="7" height="7" fill="#000" />
<rect x="543" y="522" width="5" height="5" fill="#fff" />
<rect x="552" y="521" width="7" height="7" fill="#000" />
<rect x="553" y="522" width="5" height="5" fill="#fff" />
<rect x="561" y="521" width="7" height="7" fill="#000" />
<rect x="562" y="522" width="5" height="5" fill="#fff" />
<rect x="570" y="521" width="7" height="7" fill="#000" />
<rect x="571" y="522" width="5" height="5" fill="#fff" />
<rect x="580" y="521" width="7" height="7" fill="#000" />
<rect x="581" y="522" width="5" height="5" fill="#fff" />
<rect x="589" y="521" width="8" height="7" fill="#000" />
<rect x="590" y="522" width="6" height="5" fill="#fff" />
<polygon points="490,522 493,524.5 490,527" fill="#fff"/>
<polygon points="602,522 599,524.5 602,527" fill="#fff"/>
<rect x="491" y="522" width="1" height="1" fill="#000" />
<rect x="491" y="526" width="1" height="1" fill="#000" />
<rect x="600" y="522" width="1" height="1" fill="#000" />
<rect x="600" y="526" width="1" height="1" fill="#000" />
</svg>
</body></html>
